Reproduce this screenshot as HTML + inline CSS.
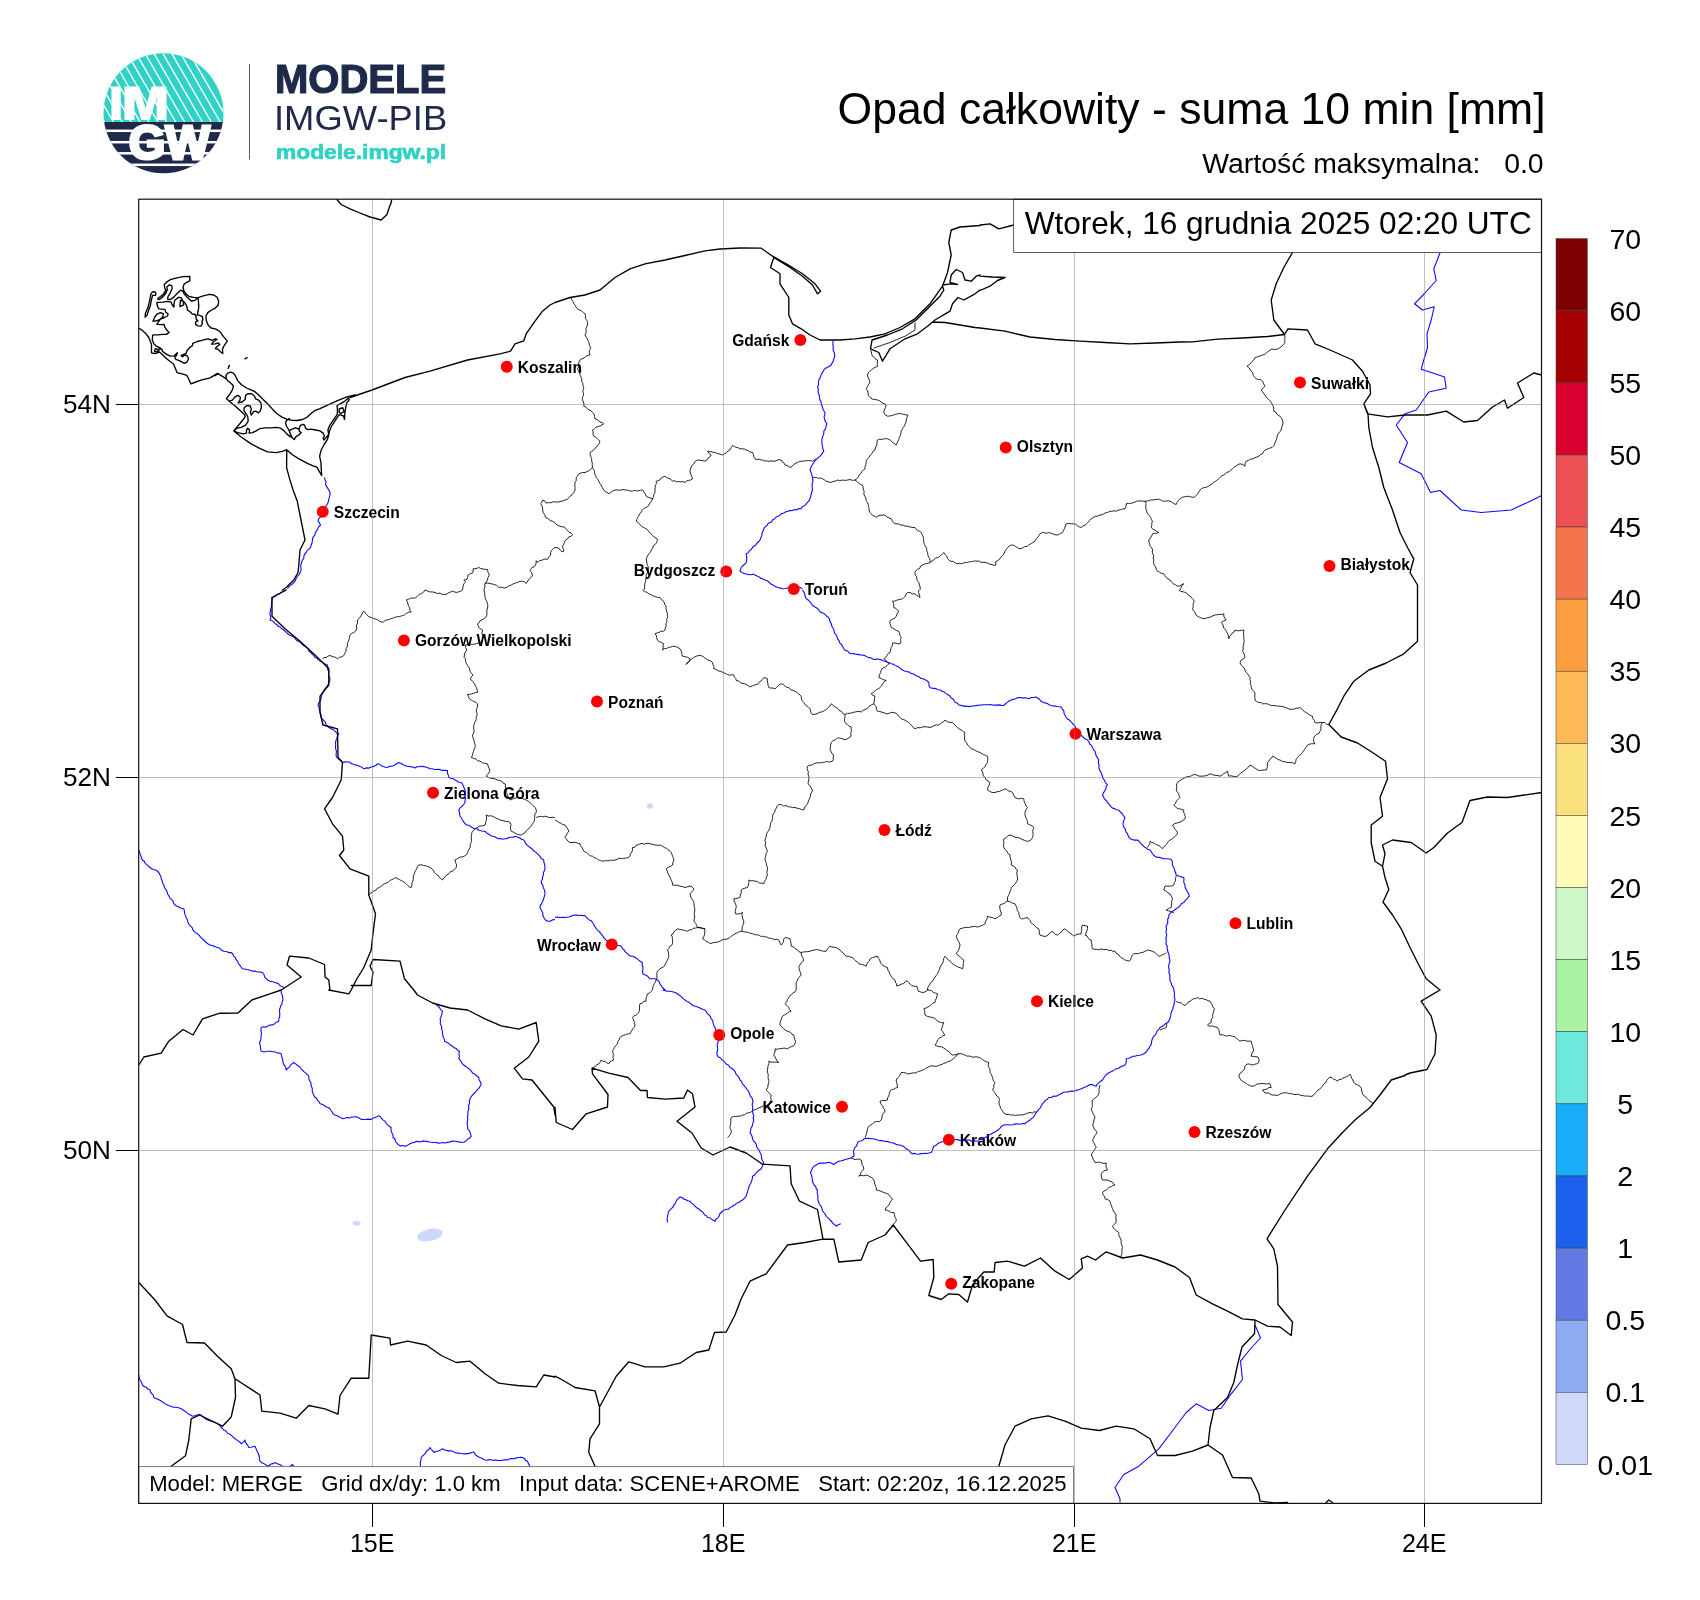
<!DOCTYPE html>
<html><head><meta charset="utf-8"><title>Opad całkowity - suma 10 min</title>
<style>
html,body{margin:0;padding:0;background:#fff;}
body{width:1700px;height:1600px;overflow:hidden;font-family:"Liberation Sans",sans-serif;}
svg{display:block;will-change:transform;}
text{font-family:"Liberation Sans",sans-serif;}
.thick{fill:none;stroke:#000;stroke-width:1.35;stroke-linejoin:round;stroke-linecap:round;}
.thin{fill:none;stroke:#000;stroke-width:0.85;stroke-linejoin:round;}
.blue{fill:none;stroke:#0a0aff;stroke-width:1.1;stroke-linejoin:round;}
.grid{stroke:#808080;stroke-width:0.5;}
.city{font-weight:bold;font-size:15.6px;fill:#000;}
.ax{font-size:25px;fill:#000;}
.cbl{font-size:28.5px;fill:#000;text-anchor:middle;}
</style></head><body>
<svg width="1700" height="1600" viewBox="0 0 1700 1600">
<rect width="1700" height="1600" fill="#fff"/>
<defs>
<clipPath id="mapclip"><rect x="138.7" y="199.2" width="1402.8" height="1304.2"/></clipPath>
<clipPath id="ctop"><path d="M103.5,113.25 A60,60 0 0 1 223.5,113.25 L223.5,122 L103.5,122 Z"/></clipPath>
<clipPath id="cbot"><path d="M103.5,122 L223.5,122 L223.5,113.25 A60,60 0 0 1 103.5,113.25 Z"/></clipPath>
<clipPath id="circ"><circle cx="163.5" cy="113.25" r="60"/></clipPath>
</defs>

<g id="logo">
<g clip-path="url(#circ)">
<rect x="100" y="50" width="130" height="72" fill="#2fd2c4"/>
<rect x="100" y="122" width="130" height="56" fill="#1f2a4b"/>
<g clip-path="url(#ctop)" stroke="#fff" stroke-width="1.4">
<line x1="45.2" y1="50" x2="86.7" y2="122"/>
<line x1="54.1" y1="50" x2="95.6" y2="122"/>
<line x1="63.0" y1="50" x2="104.5" y2="122"/>
<line x1="71.9" y1="50" x2="113.4" y2="122"/>
<line x1="80.8" y1="50" x2="122.3" y2="122"/>
<line x1="89.7" y1="50" x2="131.2" y2="122"/>
<line x1="98.6" y1="50" x2="140.1" y2="122"/>
<line x1="107.5" y1="50" x2="149.0" y2="122"/>
<line x1="116.4" y1="50" x2="157.9" y2="122"/>
<line x1="125.3" y1="50" x2="166.8" y2="122"/>
<line x1="134.2" y1="50" x2="175.7" y2="122"/>
<line x1="143.1" y1="50" x2="184.6" y2="122"/>
<line x1="152.0" y1="50" x2="193.5" y2="122"/>
<line x1="160.9" y1="50" x2="202.4" y2="122"/>
<line x1="169.8" y1="50" x2="211.3" y2="122"/>
<line x1="178.7" y1="50" x2="220.2" y2="122"/>
<line x1="187.6" y1="50" x2="229.1" y2="122"/>
<line x1="196.5" y1="50" x2="238.0" y2="122"/>
<line x1="205.4" y1="50" x2="246.9" y2="122"/>
<line x1="214.3" y1="50" x2="255.8" y2="122"/>
<line x1="223.2" y1="50" x2="264.7" y2="122"/>
<line x1="232.1" y1="50" x2="273.6" y2="122"/>
</g>
<rect x="100" y="129.55" width="130" height="2.5" fill="#fff"/>
<rect x="100" y="140.95" width="130" height="2.5" fill="#fff"/>
<rect x="100" y="152.05" width="130" height="2.5" fill="#fff"/>
<rect x="100" y="163.55" width="130" height="2.5" fill="#fff"/>
</g>
<path fill="#fff" d="M111.5,86.5 h9.2 v33.5 h-9.2 Z M124.5,120 V86.5 H139.3 L145.5,108.5 L151.7,86.5 H166.5 V120 H156.6 V97.5 L149.7,120 H141.3 L134.4,97.5 V120 Z"/>
<text x="128.8" y="159" font-weight="bold" font-size="47.5" fill="#fff" stroke="#fff" stroke-width="3" stroke-linejoin="miter" textLength="81" lengthAdjust="spacingAndGlyphs">GW</text>
<line x1="249.5" y1="64" x2="249.5" y2="159.5" stroke="#565b73" stroke-width="1"/>
<text x="275" y="92.9" font-weight="bold" font-size="40.2" fill="#1f2a4b" stroke="#1f2a4b" stroke-width="1.2" textLength="171.2" lengthAdjust="spacingAndGlyphs">MODELE</text>
<text x="274" y="130" font-size="35.8" fill="#1f2a4b" textLength="173.2" lengthAdjust="spacingAndGlyphs">IMGW-PIB</text>
<text x="276" y="158.8" font-weight="bold" font-size="20.6" fill="#2fd2c4" stroke="#2fd2c4" stroke-width="0.7" textLength="170" lengthAdjust="spacingAndGlyphs">modele.imgw.pl</text>
</g>
<text x="1545.6" y="124.0" font-size="44.55" text-anchor="end" fill="#000">Opad całkowity - suma 10 min [mm]</text>
<text x="1543.6" y="173.4" font-size="28.4" text-anchor="end" fill="#000" xml:space="preserve">Wartość maksymalna:   0.0</text>
<g clip-path="url(#mapclip)">
<ellipse cx="650" cy="806" rx="3" ry="2.8" fill="#cdd8f8"/>
<ellipse cx="356.7" cy="1223.3" rx="3.8" ry="2.4" fill="#cdd8f8"/>
<ellipse cx="430" cy="1235" rx="13" ry="6" fill="#cdd8f8" transform="rotate(-12 430 1235)"/>
<text class="city" x="333.8" y="517.9">Szczecin</text>
<text class="city" x="517.8" y="372.9">Koszalin</text>
<text class="city" x="789.4" y="346.3" text-anchor="end">Gdańsk</text>
<text class="city" x="715.2" y="575.9" text-anchor="end">Bydgoszcz</text>
<text class="city" x="804.8" y="595.2">Toruń</text>
<text class="city" x="1311.0" y="388.6">Suwałki</text>
<text class="city" x="1016.8" y="451.9">Olsztyn</text>
<text class="city" x="1340.5" y="570.3">Białystok</text>
<text class="city" x="414.9" y="645.6">Gorzów Wielkopolski</text>
<text class="city" x="444.1" y="799.1">Zielona Góra</text>
<text class="city" x="608.0" y="707.8">Poznań</text>
<text class="city" x="895.5" y="836.3">Łódź</text>
<text class="city" x="600.8" y="950.6" text-anchor="end">Wrocław</text>
<text class="city" x="1086.5" y="739.9">Warszawa</text>
<text class="city" x="1246.5" y="929.4">Lublin</text>
<text class="city" x="730.2" y="1039.4">Opole</text>
<text class="city" x="831.0" y="1112.8" text-anchor="end">Katowice</text>
<text class="city" x="959.8" y="1146.1">Kraków</text>
<text class="city" x="962.2" y="1288.2">Zakopane</text>
<text class="city" x="1048.0" y="1007.4">Kielce</text>
<text class="city" x="1205.5" y="1138.3">Rzeszów</text>
<path class="thin" d="M571.2,298.0 L571.9,300.1 L573.4,301.7 L573.9,303.9 L575.5,305.5 L576.2,307.5 L577.8,309.0 L579.6,310.2 L581.7,311.0 L583.3,312.5 L585.0,313.8 L585.5,316.0 L585.4,318.4 L586.9,320.4 L587.6,322.6 L587.5,325.0 L586.6,326.9 L585.9,328.9 L586.3,331.1 L585.9,333.1 L585.0,335.0 L585.9,336.8 L587.1,338.5 L587.9,340.5 L589.0,342.2 L589.1,344.4 L590.0,346.2 L590.6,348.4 L589.5,350.6 L589.3,352.8 L590.0,355.0 L587.7,355.4 L585.7,356.5 L584.0,358.0 L581.9,358.8 L580.0,360.0 L578.9,362.1 L578.6,364.3 L578.7,366.7 L577.5,368.8 L578.5,370.9 L579.6,373.0 L580.3,375.3 L581.2,377.5 L581.8,379.5 L581.7,381.6 L582.9,383.5 L583.0,385.6 L583.8,387.5 L583.1,389.5 L583.0,391.5 L583.5,393.6 L583.4,395.6 L582.5,397.5 L582.4,399.7 L583.3,401.8 L584.0,404.0 L583.8,406.2 L585.8,407.1 L587.3,408.7 L589.0,410.0 L591.1,410.7 L592.5,412.5 L594.2,414.2 L594.5,416.5 L595.0,418.8 L597.0,419.3 L598.5,420.7 L600.1,422.1 L602.2,422.4 L603.8,423.8 L601.9,424.9 L600.1,426.0 L598.0,426.6 L595.9,427.3 L594.3,428.8 L592.5,430.0 L593.2,432.0 L592.9,434.2 L593.8,436.2 L595.6,437.1 L597.1,438.4 L598.6,439.8 L600.0,441.2 L599.2,443.6 L597.5,445.4 L596.2,447.5 L594.7,448.7 L593.3,450.3 L591.7,451.4 L590.0,452.5 L590.2,454.7 L590.9,456.8 L591.7,458.8 L591.7,461.0 L592.3,463.1 L592.2,465.4 L592.5,467.5 L593.6,469.4 L594.6,471.3 L594.5,473.6 L595.6,475.5 L596.2,477.5 L597.8,479.2 L598.8,481.2 L599.8,483.3 L601.2,485.0 L602.2,487.6 L603.8,490.0 L605.1,491.7 L607.2,492.4 L608.8,493.8 L610.8,492.4 L612.8,491.0 L615.0,490.0 L617.0,489.9 L619.0,490.1 L621.0,490.2 L623.0,489.5 L625.0,490.0 L627.6,490.1 L630.0,491.0 L632.5,491.2 L634.4,490.4 L636.5,490.9 L638.5,490.8 L640.5,490.2 L642.5,490.0 L643.8,492.0 L645.3,494.0 L646.2,496.2 L648.3,497.3 L650.4,498.0 L652.5,498.8 M592.5,467.5 L590.8,469.0 L589.2,470.6 L587.1,471.6 L585.0,472.5 L582.8,472.5 L580.8,473.0 L578.8,473.8 L577.5,475.8 L576.2,477.8 L576.3,480.5 L575.0,482.5 M652.5,498.8 L653.5,496.7 L653.8,494.4 L655.0,492.5 L655.0,490.2 L655.0,487.9 L655.4,485.7 L656.4,483.5 L656.2,481.2 L658.2,480.6 L660.1,479.8 L661.3,477.9 L663.1,476.9 L665.0,476.2 L666.7,477.7 L669.0,478.3 L671.0,479.5 L672.5,481.2 L674.7,480.7 L676.7,481.8 L678.8,481.6 L680.9,481.9 L683.0,481.6 L685.0,482.5 L686.5,480.9 L688.6,480.4 L690.8,480.0 L692.5,478.8 L691.6,476.3 L690.6,473.8 L690.0,471.2 L690.3,469.1 L691.2,467.1 L692.1,465.3 L693.8,463.8 L695.2,461.4 L697.5,460.0 L700.0,460.3 L702.5,460.6 L705.0,461.2 L707.0,460.1 L708.1,458.1 L710.0,456.9 L711.2,455.0 L709.1,453.4 L707.5,451.2 L710.0,451.6 L712.5,452.1 L715.0,452.5 L717.4,453.5 L720.0,454.1 L722.5,455.0 L724.4,453.8 L726.5,452.8 L727.9,451.0 L730.0,450.0 L731.2,447.7 L732.5,445.5 L734.3,446.4 L736.1,447.5 L738.2,447.7 L740.0,448.8 L742.1,448.9 L744.3,448.9 L746.2,450.0 L748.3,450.8 L750.2,452.1 L752.5,452.5 L753.4,454.6 L753.8,456.8 L755.0,458.8 L756.9,459.6 L759.1,459.2 L761.1,460.0 L763.2,460.1 L765.0,461.2 L767.0,460.8 L769.0,461.5 L771.0,460.8 L773.0,461.2 L775.0,461.2 L777.0,460.2 L779.0,459.7 L781.2,460.0 L782.2,461.9 L784.1,463.1 L785.0,465.0 L787.8,465.7 L790.0,467.5 L791.9,466.6 L793.3,464.9 L795.0,463.8 L797.4,462.5 L799.8,461.4 L802.5,461.2 L804.5,461.0 L806.5,460.6 L808.5,460.6 L810.5,460.7 L812.5,461.2 L814.4,460.1 L816.2,458.8 M652.5,498.8 L651.6,501.1 L650.0,502.9 L648.8,505.0 L647.5,506.8 L645.4,507.6 L643.6,508.9 L642.1,510.4 L641.2,512.5 L639.5,513.8 L638.9,515.8 L637.6,517.4 L636.9,519.3 L636.2,521.2 L638.3,522.6 L639.9,524.5 L641.5,526.4 L643.8,527.5 L645.9,528.7 L647.9,530.2 L649.3,532.3 L651.2,533.8 L652.5,535.6 L654.2,537.0 L656.2,538.1 L657.5,540.0 L656.7,542.3 L655.4,544.3 L653.3,545.7 L652.7,548.1 L651.2,550.0 L650.5,551.9 L649.1,553.4 L648.0,555.1 L647.1,556.9 L646.2,558.8 L646.6,561.0 L646.9,563.3 L647.4,565.5 L648.8,567.5 L648.5,569.6 L648.5,571.7 L647.0,573.4 L646.1,575.3 L646.2,577.5 L645.8,579.6 L645.5,581.7 L644.8,583.7 L644.6,585.8 L644.7,588.0 L643.8,590.0 M812.5,477.5 L814.5,477.4 L816.5,477.6 L818.5,478.2 L820.6,478.0 L822.5,478.8 L824.3,479.8 L825.9,481.2 L828.1,481.6 L830.0,482.5 L832.5,481.8 L835.1,481.1 L837.5,480.0 L839.5,480.5 L841.5,480.3 L843.5,480.1 L845.5,480.4 L847.5,480.0 L850.0,479.5 L852.5,480.4 L855.0,480.0 M855.0,480.0 L856.8,478.8 L858.2,477.1 L859.1,475.0 L860.8,473.6 L861.7,471.6 L863.3,470.1 L865.0,468.8 L865.0,466.6 L865.9,464.7 L866.1,462.7 L866.3,460.6 L867.5,458.8 L869.1,457.1 L870.3,455.1 L872.0,453.5 L873.0,451.3 L875.0,450.0 L875.4,448.0 L876.3,446.1 L877.0,444.1 L876.9,442.0 L877.5,440.0 L879.4,439.2 L881.5,439.5 L883.5,439.0 L885.5,438.6 L887.5,438.8 L889.6,439.6 L891.2,441.0 L892.7,442.6 L894.6,443.7 L896.2,445.0 L897.1,443.1 L898.0,441.2 L898.9,439.3 L899.4,437.2 L900.5,435.4 L900.8,433.3 L901.2,431.2 L902.2,429.4 L903.2,427.6 L904.4,425.9 L905.1,424.0 L906.1,422.2 L906.2,420.0 L906.9,417.4 L908.0,415.0 L905.9,414.9 L903.8,414.3 L901.7,413.9 L899.7,413.4 L897.5,413.8 L895.5,414.4 L893.6,415.0 L891.6,415.5 L889.6,416.0 L887.5,416.2 L885.2,414.8 L883.8,412.5 L884.2,409.9 L885.5,407.5 L886.2,405.0 L884.7,403.7 L882.6,403.2 L881.0,401.9 L879.4,400.7 L877.5,400.0 L874.9,399.5 L872.3,399.1 L870.0,397.5 L868.4,395.6 L868.1,393.1 L867.7,390.7 L866.2,388.8 L867.5,386.7 L868.5,384.5 L870.0,382.5 L869.3,380.0 L868.1,377.6 L867.5,375.0 L868.2,373.0 L869.5,371.5 L871.2,370.3 L872.5,368.8 L875.0,367.4 L877.5,366.2 L877.3,364.2 L877.3,362.1 L877.5,360.0 L875.5,359.2 L874.3,357.4 L872.5,356.2 L871.7,354.2 L871.4,352.0 L870.5,350.0 M855.0,480.0 L856.8,481.3 L858.4,483.0 L860.3,484.3 L862.5,485.0 L863.1,487.1 L863.3,489.4 L864.2,491.5 L863.8,493.8 L864.6,496.0 L865.9,498.0 L866.1,500.5 L867.5,502.5 L868.2,504.5 L868.6,506.5 L869.0,508.5 L869.1,510.6 L870.0,512.5 L871.4,514.0 L872.7,515.5 L874.7,516.2 L876.2,517.5 L878.1,516.1 L880.2,515.3 L882.5,515.0 L885.0,515.2 L886.9,516.9 L889.0,518.0 L891.2,518.8 L892.2,520.7 L893.3,522.4 L895.0,523.8 L897.1,523.9 L899.2,524.1 L901.0,525.2 L903.2,525.1 L905.0,526.2 L907.1,526.0 L909.0,526.7 L911.0,527.2 L913.0,527.5 L915.0,527.5 L916.1,529.3 L917.6,530.7 L919.7,531.3 L921.2,532.5 L922.0,534.4 L923.0,536.3 L923.5,538.3 L923.6,540.4 L923.8,542.5 L924.4,544.5 L925.6,546.4 L926.6,548.3 L926.7,550.5 L927.5,552.5 L927.8,554.6 L928.4,556.5 L929.4,558.4 L930.1,560.4 L930.0,562.5 M930.0,562.5 L927.6,563.6 L924.9,563.8 L922.5,565.0 L920.5,566.0 L919.8,568.3 L917.7,569.2 L916.0,570.5 L915.0,572.5 L915.1,574.7 L916.6,576.5 L916.7,578.7 L917.4,580.7 L918.8,582.5 L919.4,585.0 L920.3,587.4 L920.0,590.0 M930.0,562.5 L931.8,561.1 L933.8,560.0 L935.3,558.2 L937.5,557.5 L939.3,556.6 L940.9,555.3 L942.3,553.9 L943.8,552.5 L945.0,554.4 L946.7,556.0 L947.4,558.2 L948.8,560.0 L950.8,561.3 L953.3,561.4 L955.2,563.0 L957.5,563.8 L959.5,563.4 L961.6,563.8 L963.5,563.0 L965.5,562.4 L967.5,562.5 L969.5,561.7 L971.6,561.7 L973.7,561.1 L975.8,561.0 L977.9,561.2 L980.0,561.2 M1284.5,334.5 L1284.9,336.5 L1284.8,338.5 L1284.7,340.5 L1285.0,342.5 L1283.5,344.4 L1282.0,346.1 L1280.0,347.5 L1278.2,348.8 L1276.2,349.3 L1274.1,349.4 L1271.9,349.1 L1270.0,350.0 L1268.3,351.5 L1266.4,352.7 L1264.8,354.4 L1262.5,355.0 L1260.0,356.0 L1257.5,356.8 L1255.0,357.5 L1254.0,359.3 L1252.7,361.0 L1251.2,362.5 L1249.4,364.7 L1247.0,366.2 L1248.6,367.6 L1250.1,369.0 L1251.0,371.0 L1252.5,372.5 L1253.2,375.3 L1255.0,377.5 L1256.5,379.1 L1258.7,379.5 L1260.9,379.7 L1262.5,381.2 L1263.6,383.8 L1265.0,386.2 L1263.1,388.1 L1261.2,390.0 L1262.5,391.7 L1263.6,393.5 L1265.0,395.0 L1266.2,397.2 L1268.0,398.9 L1269.7,400.6 L1271.2,402.5 L1272.4,404.5 L1273.3,406.7 L1273.8,408.9 L1273.8,411.2 L1275.8,411.9 L1276.7,414.0 L1278.3,415.2 L1280.0,416.2 L1281.5,418.1 L1282.4,420.2 L1283.0,422.5 L1282.7,425.1 L1281.5,427.4 L1281.2,430.0 L1280.0,431.7 L1278.7,433.3 L1277.5,435.0 L1277.0,437.6 L1276.2,440.1 L1275.0,442.5 L1274.1,445.4 L1272.0,447.5 L1269.6,448.2 L1267.3,449.1 L1265.0,450.0 L1263.5,451.7 L1262.5,453.8 L1260.5,454.5 L1259.0,456.1 L1257.1,457.0 L1255.0,457.5 L1253.0,458.8 L1250.5,459.2 L1248.5,460.4 L1246.2,461.2 L1245.1,463.6 L1245.0,466.2 L1242.8,464.5 L1240.0,463.8 L1237.9,464.6 L1236.1,466.1 L1234.2,467.2 L1232.5,468.8 L1230.8,470.1 L1229.3,471.7 L1227.1,472.3 L1225.5,473.7 L1223.8,475.0 L1221.8,475.7 L1220.3,477.1 L1218.9,478.5 L1217.5,480.0 L1215.6,481.2 L1213.6,482.3 L1212.0,484.0 L1210.0,485.0 L1208.1,486.3 L1206.2,487.3 L1203.9,487.7 L1201.7,488.4 L1200.0,490.0 L1198.7,492.1 L1197.5,494.2 L1195.7,495.9 L1193.8,497.5 L1191.7,497.0 L1189.6,496.7 L1187.5,496.2 L1184.9,496.8 L1182.3,497.2 L1180.0,498.8 L1178.3,500.4 L1177.2,502.4 L1176.2,504.5 L1174.0,503.7 L1172.1,502.3 L1170.0,501.2 L1167.9,500.8 L1165.7,501.1 L1163.5,501.3 L1161.4,500.3 L1159.4,499.3 L1157.2,499.3 L1155.0,499.5 L1153.0,500.1 L1150.9,499.8 L1149.0,500.7 L1147.0,501.1 L1145.0,501.2 M1145.0,501.2 L1143.0,501.0 L1141.0,501.0 L1138.9,500.9 L1136.9,501.1 L1135.0,502.0 L1132.9,502.8 L1130.7,503.4 L1128.5,503.4 L1126.2,503.8 L1126.0,506.3 L1125.0,508.8 L1122.7,509.0 L1120.5,509.6 L1118.3,510.1 L1116.2,511.2 L1114.0,510.8 L1111.8,511.3 L1109.6,511.4 L1107.5,512.5 L1104.9,513.1 L1102.6,514.6 L1100.0,515.0 L1097.9,516.0 L1095.4,516.4 L1093.3,517.5 L1091.2,518.8 L1089.7,520.3 L1088.3,522.1 L1086.7,523.7 L1085.1,525.2 L1082.9,526.0 L1081.2,527.5 L1079.3,526.8 L1077.4,525.8 L1075.9,524.2 L1073.8,523.8 L1071.2,523.8 L1068.8,523.5 L1066.2,523.8 L1065.4,526.0 L1064.6,528.2 L1063.6,530.4 L1062.5,532.5 L1060.5,533.5 L1058.5,534.7 L1056.2,535.0 L1053.7,534.2 L1051.3,533.3 L1048.8,532.5 L1046.6,533.3 L1044.3,532.7 L1042.1,532.6 L1040.0,533.8 L1038.8,535.6 L1037.7,537.6 L1036.0,539.2 L1035.0,541.2 L1033.1,542.4 L1031.2,543.6 L1029.1,544.7 L1027.5,546.2 L1024.8,546.6 L1022.5,548.1 L1020.0,548.8 L1017.8,547.9 L1015.8,546.5 L1013.7,545.3 L1011.2,545.0 L1009.2,546.0 L1007.7,547.7 L1006.2,549.4 L1005.0,551.2 L1004.2,553.4 L1002.8,555.2 L1001.1,556.8 L1000.0,558.8 L997.9,560.5 L995.5,561.8 L996.0,565.0 L993.9,565.4 L992.0,564.6 L990.0,564.2 L988.1,563.5 L986.2,562.6 L984.1,562.3 L982.0,562.3 L980.0,562.0 M1145.0,501.2 L1146.0,503.4 L1145.8,505.8 L1145.7,508.1 L1146.4,510.3 L1147.0,512.5 L1148.0,514.3 L1149.6,515.7 L1150.7,517.5 L1151.4,519.5 L1152.5,521.2 L1151.7,523.3 L1151.8,525.4 L1151.2,527.5 L1152.9,529.1 L1154.9,530.2 L1156.8,531.4 L1158.8,532.5 L1156.7,533.3 L1154.6,533.2 L1152.5,533.8 L1151.6,536.1 L1150.2,538.1 L1148.8,540.0 L1149.1,542.2 L1149.6,544.2 L1150.2,546.3 L1151.9,548.0 L1152.5,550.0 L1152.2,552.1 L1152.9,554.0 L1153.7,555.9 L1153.1,558.0 L1153.8,560.0 L1153.5,562.2 L1153.9,564.2 L1155.1,566.0 L1156.1,567.9 L1156.2,570.0 L1157.9,571.4 L1159.8,572.3 L1161.5,573.5 L1163.8,573.8 L1164.9,575.7 L1166.3,577.5 L1168.0,578.9 L1170.0,580.0 L1171.5,582.1 L1173.2,583.7 L1175.5,584.8 L1177.5,586.2 L1179.8,586.0 L1181.7,584.7 L1183.8,583.8 L1181.9,585.5 L1181.0,587.8 L1180.0,590.0 M575.0,482.5 L574.8,485.0 L575.0,487.5 L575.0,490.1 L573.8,492.5 L572.2,494.7 L570.0,496.2 L568.6,497.9 L567.2,499.4 L565.0,500.0 L563.1,500.9 L561.1,501.3 L559.1,501.8 L557.1,502.1 L555.0,501.9 L552.8,501.9 L550.7,502.8 L548.4,502.6 L546.2,503.1 L544.8,501.0 L542.5,500.0 L541.9,502.1 L540.6,503.8 L542.5,506.9 L542.7,509.7 L543.1,512.5 L544.8,514.8 L545.6,517.5 L548.2,518.6 L550.0,520.6 L552.5,521.2 L554.7,522.5 L556.2,524.4 L558.6,525.6 L561.0,526.7 L563.8,526.9 L565.9,528.5 L567.5,530.6 L569.0,532.2 L571.1,532.9 L572.5,534.6 L571.1,536.3 L568.8,536.9 L567.5,538.8 L565.4,540.2 L564.4,542.5 L563.7,544.5 L562.5,546.2 L563.1,548.7 L563.8,551.2 L561.9,551.9 L560.2,550.1 L558.8,548.1 L555.0,547.5 L553.3,548.6 L551.9,550.0 L550.7,552.4 L550.6,555.0 L548.8,557.0 L547.5,559.4 L544.9,559.0 L542.5,560.0 L539.7,560.6 L537.5,562.5 L536.2,560.6 L536.1,562.8 L535.6,565.0 L534.1,566.8 L531.9,567.5 L530.0,570.6 L531.8,572.8 L532.5,575.6 L531.1,577.3 L529.4,578.8 L527.7,581.0 L526.2,583.5 L524.7,581.9 L522.5,581.2 L519.9,581.4 L517.5,582.5 L515.3,583.0 L513.2,583.9 L511.2,585.0 L509.0,585.8 L507.1,587.1 L505.0,588.1 L502.9,587.7 L500.9,587.2 L498.8,587.5 L496.6,585.4 L493.8,584.4 L490.0,583.5 L487.5,583.0 L485.0,583.5 M485.0,583.5 L486.4,581.9 L487.5,580.0 L488.0,577.3 L489.4,575.0 L488.0,572.3 L487.5,569.4 L485.3,569.4 L483.1,569.0 L480.8,568.6 L478.8,567.5 L476.1,568.6 L473.1,568.8 L473.2,571.0 L472.5,573.1 L470.2,573.8 L468.1,575.0 L467.7,577.2 L466.9,579.4 L463.8,580.0 L465.6,581.9 L463.9,583.8 L463.1,586.2 L462.5,590.0 L460.6,591.3 L458.4,591.9 L456.2,592.5 L452.5,591.2 L450.3,592.1 L448.1,593.0 L446.2,594.4 L444.1,594.5 L441.9,594.2 L440.0,593.1 L437.4,593.5 L435.0,592.5 L432.5,591.9 L429.8,591.9 L427.4,591.0 L425.0,590.0 M485.0,583.5 L484.9,585.7 L484.8,588.0 L483.8,590.0 L484.6,592.4 L484.8,595.0 L485.0,597.5 L485.8,599.6 L486.9,601.6 L487.5,603.8 L487.9,605.9 L487.5,608.0 L486.9,610.0 L486.8,612.5 L486.9,615.0 L485.8,617.3 L483.8,618.8 L482.0,619.9 L480.0,620.6 L479.3,622.6 L477.5,623.8 L478.2,626.0 L479.4,628.1 L482.5,630.0 L481.9,633.8 L483.1,635.5 L483.8,637.5 L482.6,639.2 L481.7,641.2 L480.0,642.5 L476.2,643.8 L473.8,644.2 L471.2,644.4 L468.4,644.3 L465.6,645.0 L465.6,647.7 L466.9,650.0 L465.1,652.2 L464.4,655.0 L464.0,657.2 L465.6,659.1 L465.6,661.2 L466.6,663.9 L468.1,666.2 L469.5,668.6 L470.0,671.2 L471.3,673.3 L473.1,675.0 L471.2,677.1 L470.6,680.0 M322.5,658.8 L324.2,657.5 L326.4,657.5 L328.0,656.1 L330.0,655.5 L331.9,656.3 L333.8,657.0 L335.8,657.4 L337.5,658.8 L339.4,657.3 L341.8,656.8 L343.8,655.5 L344.8,653.2 L346.1,651.1 L346.1,648.4 L347.5,646.2 L347.3,643.8 L348.2,641.7 L349.1,639.5 L349.4,637.2 L350.0,635.0 L351.4,633.5 L353.3,632.7 L355.1,631.7 L356.2,630.0 L356.9,628.1 L356.4,626.0 L357.2,624.0 L357.5,622.0 L357.5,620.0 L359.1,618.5 L360.4,616.8 L361.5,614.9 L362.4,613.0 L363.8,611.2 L365.3,613.1 L367.0,614.9 L368.8,616.6 L371.2,617.5 L373.2,618.4 L375.4,619.0 L377.5,619.7 L379.2,621.1 L381.2,622.0 L383.5,622.0 L385.2,620.5 L387.2,619.9 L389.3,619.4 L391.2,618.6 L393.3,618.0 L395.2,617.2 L397.3,616.7 L399.5,616.6 L401.4,615.9 L403.5,615.5 L405.3,614.2 L407.1,612.9 L409.1,612.1 L411.2,612.0 L409.9,610.2 L409.7,607.9 L408.5,606.1 L407.9,604.0 L407.6,601.8 L406.2,600.0 L408.5,599.3 L410.6,598.2 L413.1,598.1 L415.5,597.8 L417.5,596.2 L419.2,594.4 L421.5,593.4 L423.6,592.1 L425.0,590.0 M471.2,680.0 L472.7,681.5 L474.0,683.2 L475.0,685.0 L476.3,687.3 L477.2,689.8 L477.5,692.5 L475.5,692.7 L473.5,693.3 L471.6,694.0 L469.6,694.4 L467.5,694.5 L468.4,696.6 L469.3,698.6 L471.2,700.0 L473.3,701.3 L475.6,702.2 L477.5,703.8 L477.7,706.1 L476.8,708.3 L476.2,710.6 L476.9,712.9 L477.1,715.3 L476.2,717.5 L476.2,719.8 L475.0,721.8 L474.3,723.9 L473.6,726.1 L473.7,728.4 L474.0,730.7 L473.8,733.0 L472.5,735.0 L472.8,737.1 L473.5,739.1 L474.2,741.2 L474.6,743.2 L475.3,745.3 L475.0,747.5 L474.0,749.4 L473.5,751.5 L472.7,753.5 L472.4,755.6 L471.2,757.5 L473.5,758.3 L475.8,759.0 L477.6,760.7 L480.0,761.2 L482.3,762.7 L484.8,763.4 L487.5,763.8 L488.1,765.9 L488.8,768.1 L490.0,770.0 L489.1,772.3 L487.8,774.3 L486.2,776.2 L488.4,777.4 L490.6,778.3 L493.0,778.4 L495.3,779.1 L497.5,780.0 L499.6,780.4 L501.6,781.1 L503.0,783.1 L505.0,783.8 L505.6,785.9 L505.3,788.2 L506.3,790.3 L506.2,792.5 L507.3,794.3 L508.1,796.2 L509.4,797.9 L510.0,800.0 L512.2,799.1 L514.4,798.4 L516.6,797.6 L518.9,797.5 L521.2,797.5 L522.9,798.8 L524.9,799.3 L526.6,800.3 L528.4,801.3 L530.0,802.5 L531.6,804.3 L533.4,806.0 L535.3,807.6 L536.2,810.0 L536.3,812.2 L534.9,814.1 L534.7,816.2 L534.6,818.3 L534.4,820.5 L533.8,822.5 L532.0,824.2 L530.9,826.5 L529.1,828.1 L527.5,830.0 L525.9,831.2 L524.7,833.0 L522.9,833.9 L521.2,835.0 L518.7,834.7 L516.2,833.8 M368.8,895.0 L370.3,893.2 L372.3,892.2 L374.1,890.8 L376.2,890.0 L377.4,888.2 L379.4,887.5 L381.0,886.3 L382.5,885.0 L384.2,883.8 L386.2,883.1 L388.2,882.3 L389.7,880.7 L391.5,879.7 L393.5,879.0 L395.0,877.5 L396.9,878.3 L398.8,879.3 L400.7,880.3 L402.5,881.2 L404.4,882.3 L406.0,883.8 L407.5,885.3 L409.1,886.8 L411.2,887.5 L411.8,885.4 L411.8,883.3 L412.8,881.3 L413.3,879.2 L413.2,877.0 L413.8,875.0 L414.6,872.9 L415.4,870.8 L416.7,869.0 L417.4,866.8 L418.8,865.0 L421.2,864.8 L423.4,865.4 L425.7,865.8 L427.9,866.5 L430.0,867.5 L431.9,868.8 L433.4,870.3 L434.4,872.5 L435.9,874.1 L437.9,875.2 L439.0,877.2 L440.8,878.5 L442.5,880.0 L443.6,878.0 L445.4,876.7 L446.7,874.8 L448.8,873.8 L450.3,871.8 L452.8,871.0 L454.5,869.2 L456.2,867.5 L456.6,864.9 L455.6,862.5 L455.0,860.0 L456.8,859.0 L458.6,857.9 L460.4,857.0 L462.6,856.8 L464.5,856.0 L466.2,855.0 L467.6,853.1 L468.1,850.9 L469.3,849.0 L470.3,846.9 L470.1,844.5 L471.2,842.5 L471.6,840.3 L471.2,837.9 L471.6,835.7 L471.6,833.4 L472.5,831.2 L474.1,830.0 L475.5,828.3 L477.5,827.5 L479.8,826.0 L482.5,825.9 L485.0,825.0 L485.5,823.0 L486.1,821.1 L486.5,819.1 L486.6,817.1 L486.2,815.0 L488.2,816.0 L490.4,815.8 L492.5,816.2 L494.4,817.1 L496.2,818.2 L498.2,818.9 L500.0,820.0 L502.0,820.4 L504.0,820.9 L506.0,821.5 L508.2,821.4 L510.0,822.5 L511.0,824.6 L510.5,826.9 L510.4,829.1 L511.2,831.2 L513.8,832.3 L516.2,833.8 M536.2,817.5 L538.4,816.7 L540.5,816.3 L542.9,816.9 L545.0,816.2 L547.0,816.6 L548.9,817.6 L551.0,817.5 L553.1,817.2 L555.0,818.0 M642.5,590.0 L644.4,591.6 L646.9,592.2 L648.8,593.8 L651.0,594.6 L653.0,595.9 L655.3,596.6 L657.5,597.4 L660.0,597.5 L661.2,599.3 L663.0,600.7 L664.2,602.4 L664.8,604.7 L666.2,606.2 L666.0,608.6 L666.5,610.8 L667.3,613.0 L667.4,615.2 L667.5,617.5 L666.7,619.5 L667.1,621.7 L665.8,623.7 L666.3,625.9 L665.3,627.9 L665.0,630.0 L663.2,631.3 L660.9,631.2 L659.1,632.4 L657.0,633.0 L655.0,633.8 L656.4,635.6 L656.7,637.9 L657.5,640.0 L659.2,641.8 L661.7,642.5 L663.8,643.8 L662.9,645.7 L663.2,648.0 L662.5,650.0 L664.2,648.6 L666.5,648.5 L668.4,647.4 L670.6,647.2 L672.5,646.2 L675.2,646.6 L677.7,647.3 L680.0,648.8 L681.3,651.1 L681.8,653.7 L682.5,656.2 L685.1,656.7 L687.7,657.3 L690.0,658.8 L689.4,661.1 L687.9,662.8 L686.2,664.5 L687.2,662.5 L689.1,661.5 L690.3,659.8 L692.1,658.7 L693.8,657.5 L696.1,656.2 L698.8,655.5 L700.9,655.6 L702.9,656.3 L704.5,657.7 L706.2,658.8 L708.2,660.2 L710.6,660.9 L712.5,662.5 L712.9,664.6 L713.9,666.6 L713.8,668.8 L716.2,669.5 L718.2,670.9 L720.8,671.3 L723.0,672.5 L725.3,673.4 L727.5,674.5 L729.5,675.2 L731.7,674.7 L733.8,675.0 L734.3,677.0 L735.8,678.5 L736.2,680.5 L738.4,680.9 L740.2,682.3 L742.0,683.4 L744.3,683.6 L746.2,684.5 L748.2,685.6 L750.0,687.0 L752.4,685.9 L754.8,684.8 L757.5,684.5 L758.8,682.5 L760.9,681.2 L762.3,679.4 L763.8,677.5 L767.5,678.8 L767.3,681.0 L767.8,683.2 L768.1,685.4 L768.8,687.5 L770.8,688.1 L773.0,688.0 L775.0,688.8 L776.5,687.4 L778.0,686.0 L779.4,684.6 L781.2,683.8 L783.3,684.3 L784.8,686.0 L786.5,687.3 L788.8,687.5 L790.4,689.5 L792.7,690.3 L795.0,691.2 L796.8,692.4 L798.5,693.6 L800.0,695.0 L801.3,696.7 L801.4,699.0 L802.2,700.9 L803.8,702.5 L804.9,704.5 L806.7,705.8 L808.4,707.2 L810.0,708.8 L810.5,710.8 L811.1,712.8 L812.5,714.5 L814.7,714.3 L816.9,713.9 L818.8,712.5 L820.8,712.1 L822.7,711.6 L824.5,710.6 L826.2,709.5 L828.1,707.7 L830.0,706.0 L831.2,703.8 L832.9,705.1 L834.3,706.7 L836.2,707.5 L838.0,708.6 L839.2,710.5 L841.2,711.2 L842.8,713.3 L845.0,714.5 M845.0,714.5 L847.4,713.4 L850.0,713.3 L852.5,712.5 L854.7,712.1 L856.8,711.6 L859.0,711.4 L861.2,712.0 L862.9,710.5 L865.0,709.5 L867.4,708.4 L869.1,706.3 L871.2,705.0 L873.8,703.8 M873.8,703.8 L874.2,701.3 L874.5,698.7 L875.0,696.2 L872.9,695.4 L871.2,693.8 L873.2,692.6 L874.9,691.1 L876.5,689.4 L878.8,688.8 L880.2,687.2 L881.6,685.7 L882.5,683.8 L884.1,681.8 L886.2,680.5 L884.3,680.0 L882.4,679.3 L880.7,678.2 L878.8,677.5 L879.4,674.9 L880.6,672.6 L881.2,670.0 L882.8,668.0 L885.2,667.2 L887.1,665.6 L888.8,663.8 L887.1,662.1 L885.7,660.1 L883.8,658.8 L885.6,657.5 L886.8,655.6 L888.0,653.6 L890.0,652.5 L890.6,650.1 L891.1,647.7 L892.3,645.5 L892.5,643.0 L895.0,642.9 L897.5,643.8 L900.0,643.8 L901.0,641.8 L900.6,639.5 L901.2,637.5 L900.0,635.6 L899.6,633.3 L898.8,631.2 L896.7,630.6 L894.9,629.5 L893.1,628.4 L891.2,627.5 L890.7,625.4 L889.9,623.4 L890.0,621.2 L891.3,619.6 L893.3,618.9 L895.0,617.9 L896.2,616.2 L897.2,613.6 L898.8,611.2 L897.2,609.9 L895.8,608.3 L893.8,607.5 L893.7,605.3 L893.7,603.2 L892.5,601.2 L894.6,601.1 L896.5,600.3 L898.5,599.7 L900.5,599.3 L902.5,598.8 L903.9,597.3 L905.6,596.1 L906.1,593.9 L907.5,592.5 L910.1,592.6 L912.4,593.8 L915.0,593.8 L916.4,595.3 L918.4,596.2 L920.0,597.5 L919.6,595.0 L918.6,592.6 L918.8,590.0 M873.8,703.8 L875.1,705.4 L876.3,707.1 L876.4,709.5 L877.5,711.2 L879.8,711.5 L882.0,712.2 L884.2,712.8 L886.2,713.8 L888.8,713.5 L891.2,712.4 L893.8,712.5 L896.2,713.4 L898.0,715.1 L899.5,717.1 L901.2,718.8 L903.1,719.5 L905.1,720.2 L906.8,721.3 L908.5,722.3 L910.0,723.8 L911.6,725.5 L913.1,727.3 L915.0,728.8 L917.4,727.6 L920.1,727.8 L922.5,727.0 L925.0,726.7 L927.5,727.0 L930.0,727.5 L932.1,726.7 L934.2,725.6 L936.3,724.9 L938.8,725.0 L940.3,723.8 L942.0,722.7 L943.7,721.6 L945.0,720.0 L947.2,721.6 L949.7,722.4 L952.5,722.5 L954.2,724.2 L955.7,726.0 L957.5,727.5 L959.2,729.0 L961.4,729.8 L963.0,731.5 L965.0,732.5 L964.3,734.7 L964.6,736.9 L964.5,739.1 L965.0,741.2 L966.7,743.0 L967.8,745.3 L969.7,746.8 L971.2,748.8 L973.6,749.4 L975.6,750.6 L977.8,751.7 L980.0,752.5 M845.0,714.5 L845.0,716.5 L844.6,718.5 L844.5,720.5 L845.0,722.5 L847.0,724.2 L848.8,726.0 L851.2,727.0 L851.2,729.3 L851.4,731.6 L850.6,733.9 L851.2,736.2 L848.8,737.9 L846.2,739.5 L844.0,739.6 L841.9,738.5 L839.7,738.0 L837.5,738.0 L835.5,739.6 L833.1,740.7 L831.2,742.5 L830.5,744.9 L830.4,747.5 L830.0,750.0 L831.2,751.7 L832.0,753.7 L833.8,755.0 L833.1,757.0 L833.4,759.3 L832.5,761.2 L830.5,761.7 L828.5,762.1 L826.4,761.5 L824.5,762.2 L822.5,762.5 L820.3,762.9 L818.1,762.8 L815.9,763.0 L813.8,763.8 L811.8,765.0 L809.5,765.3 L807.5,766.2 L807.1,768.3 L807.7,770.3 L808.4,772.2 L808.0,774.3 L808.8,776.2 L808.9,778.8 L808.4,781.3 L808.0,783.8 L809.9,785.6 L811.1,787.9 L812.5,790.0 L811.9,792.1 L810.6,793.8 L810.6,796.1 L809.7,798.1 L808.8,800.0 L808.1,802.2 L807.3,804.3 L805.5,805.9 L804.5,807.9 L803.8,810.0 L801.5,809.5 L799.4,808.7 L797.2,808.2 L795.0,807.5 L792.7,807.6 L790.5,806.9 L788.3,806.8 L786.2,805.5 L783.6,806.0 L781.3,804.6 L778.8,804.5 L777.1,806.1 L776.3,808.2 L775.0,810.0 L774.8,812.3 L773.1,814.1 L772.5,816.2 L772.5,818.6 L772.0,820.9 L770.7,822.9 L770.3,825.2 L770.0,827.5 L769.1,829.7 L767.8,831.7 L766.5,833.8 L766.2,836.2 L765.6,838.4 L764.9,840.5 L765.7,842.9 L765.0,845.0 L765.9,847.0 L766.5,849.2 L767.5,851.2 L766.1,853.6 L765.7,856.2 L765.0,858.8 L765.4,861.0 L766.4,863.1 L766.6,865.4 L767.5,867.5 L767.3,870.0 L766.8,872.5 L767.5,875.0 L766.3,877.1 L765.9,879.5 L764.4,881.4 L763.8,883.8 L761.6,883.1 L759.2,883.0 L757.3,881.4 L755.0,881.2 L752.9,880.7 L750.8,880.8 L748.8,880.0 L748.9,882.6 L748.4,885.1 L747.5,887.5 L745.3,888.0 L743.1,888.6 L741.2,890.0 L741.3,892.6 L740.3,895.0 L740.0,897.5 L738.0,898.1 L735.9,898.5 L733.8,898.8 L734.1,901.0 L735.2,903.1 L736.0,905.2 L736.2,907.5 L735.5,909.5 L735.2,911.6 L735.5,913.8 L737.9,914.0 L740.3,913.5 L742.5,912.5 L741.9,914.6 L742.4,916.6 L742.7,918.6 L743.6,920.5 L743.8,922.5 L743.1,924.6 L742.2,926.7 L742.1,929.0 L742.0,931.2 M742.0,931.2 L744.0,932.0 L746.3,931.9 L748.3,932.6 L750.4,933.2 L752.5,933.8 L754.4,934.5 L756.5,934.9 L758.6,934.9 L760.4,936.3 L762.5,936.2 L764.5,936.9 L766.6,936.8 L768.4,938.0 L770.5,938.2 L772.5,938.8 L774.5,939.7 L776.8,939.2 L778.8,940.0 L779.8,942.6 L781.2,945.0 L782.5,943.3 L783.5,941.4 L783.6,939.2 L785.0,937.5 L787.5,938.0 L790.0,938.8 L790.5,941.2 L791.1,943.7 L791.2,946.2 L793.6,946.9 L795.3,948.7 L797.4,949.8 L798.9,951.7 L801.2,952.5 L803.4,952.0 L805.6,951.7 L807.8,951.7 L810.0,951.2 L812.1,950.5 L814.3,950.0 L816.5,949.5 L818.8,950.0 L821.2,950.6 L823.7,951.3 L826.2,951.2 L827.2,949.4 L828.4,947.7 L830.0,946.2 L832.0,947.1 L834.2,947.2 L836.3,947.7 L838.2,948.6 L840.0,950.0 L841.5,951.7 L843.3,952.9 L844.5,954.9 L846.2,956.2 L848.4,956.3 L850.4,957.1 L852.5,957.5 L853.9,959.2 L855.4,960.8 L857.4,961.9 L858.8,963.8 L861.3,964.4 L863.9,965.0 L866.2,966.2 L866.8,964.2 L867.8,962.3 L869.4,960.8 L870.0,958.8 L872.4,957.7 L874.9,956.9 L877.5,956.2 L878.2,958.3 L879.8,959.8 L880.1,962.0 L881.2,963.8 L883.0,965.5 L885.2,966.6 L887.5,967.5 L887.8,970.0 L889.2,971.9 L889.9,974.2 L891.2,976.2 M801.2,952.5 L801.4,955.2 L802.7,957.6 L803.8,960.0 L802.5,961.9 L800.7,963.4 L799.6,965.4 L798.8,967.5 L799.4,970.1 L800.5,972.5 L801.2,975.0 L799.8,976.7 L798.1,978.3 L797.3,980.5 L796.2,982.5 L796.2,985.0 L796.2,987.5 L796.2,990.0 M980.0,926.2 L977.8,927.1 L975.5,926.5 L973.2,926.6 L971.0,926.9 L968.8,927.5 L966.5,927.4 L964.3,927.6 L962.2,928.3 L960.0,928.8 L958.9,930.6 L958.4,932.6 L957.2,934.4 L956.2,936.2 L957.0,938.5 L958.0,940.7 L959.4,942.7 L960.0,945.0 L959.5,947.4 L958.8,949.7 L957.5,951.7 L956.2,953.8 L958.1,955.3 L960.1,956.7 L961.8,958.6 L963.8,960.0 L963.5,962.2 L963.2,964.4 L963.2,966.6 L962.5,968.8 L960.5,967.8 L958.3,967.1 L956.3,966.2 L954.4,965.0 L952.5,963.8 L951.1,962.2 L949.5,960.7 L947.7,959.5 L946.5,957.8 L945.0,956.2 L943.8,958.3 L943.4,960.7 L942.8,963.1 L941.2,965.0 L940.1,967.1 L939.5,969.4 L938.4,971.5 L937.5,973.8 L936.3,975.4 L935.0,977.1 L933.9,978.9 L933.0,980.8 L931.2,982.0 L930.0,983.8 L928.9,985.7 L927.7,987.7 L927.5,990.0 M555.0,820.0 L557.0,821.0 L558.8,822.4 L560.9,823.2 L562.7,824.6 L565.0,825.0 L566.4,827.0 L567.8,829.0 L568.8,831.2 L567.3,833.2 L566.3,835.4 L565.0,837.5 L566.6,839.2 L567.9,841.2 L570.0,842.5 L572.0,842.6 L574.1,842.3 L576.1,842.4 L578.0,843.4 L580.0,843.8 L580.4,845.9 L582.0,847.4 L582.9,849.4 L583.8,851.2 L585.6,852.1 L587.3,853.2 L588.8,854.6 L590.4,855.8 L592.5,856.2 L594.3,857.6 L596.5,858.3 L598.2,859.8 L600.4,860.4 L602.5,861.2 L604.6,860.8 L606.7,860.7 L608.8,860.8 L610.8,860.1 L612.9,860.4 L615.0,860.0 L617.1,859.4 L619.1,858.3 L621.4,858.4 L623.7,858.4 L625.9,858.0 L628.1,857.7 L630.0,856.2 L630.3,854.0 L631.8,852.0 L632.6,849.9 L632.5,847.5 L634.7,847.3 L636.1,845.3 L638.2,844.8 L640.0,843.8 L642.0,843.4 L644.0,844.2 L646.0,843.6 L648.0,843.1 L650.0,843.8 L652.1,844.1 L654.1,844.8 L656.2,845.1 L658.3,845.3 L660.5,845.2 L662.5,846.2 L664.3,847.6 L666.6,848.2 L668.2,849.9 L670.0,851.2 L671.5,852.9 L672.1,854.9 L672.8,856.9 L673.8,858.8 L673.7,860.9 L672.7,862.9 L672.5,865.0 L670.5,866.5 L668.1,867.1 L666.2,868.8 L667.2,870.9 L667.9,873.2 L669.0,875.3 L670.0,877.5 L671.1,879.9 L672.3,882.3 L672.5,885.0 L675.0,885.3 L677.6,885.2 L680.0,886.2 L682.6,886.6 L685.0,887.5 L687.0,886.9 L689.1,886.3 L691.2,886.2 L693.8,888.8 L692.9,890.7 L691.4,892.2 L690.0,893.8 L690.5,896.1 L691.4,898.3 L692.9,900.3 L693.8,902.5 L694.1,905.0 L694.4,907.5 L695.0,910.0 L694.4,912.0 L694.2,914.0 L694.7,916.1 L694.7,918.1 L693.8,920.0 L694.5,921.9 L695.9,923.6 L696.6,925.6 L697.5,927.5 L700.1,927.3 L702.5,928.2 L705.0,928.8 M705.0,928.8 L704.8,930.8 L704.7,932.9 L704.4,935.0 L703.7,936.9 L702.5,938.8 L704.5,939.8 L706.1,941.5 L708.4,942.0 L710.0,943.8 L712.0,943.1 L713.9,942.5 L716.0,942.3 L718.1,942.0 L720.0,941.2 L721.8,940.1 L723.8,939.3 L726.1,939.3 L728.1,938.6 L730.0,937.5 L731.5,936.0 L733.3,934.9 L735.0,933.8 L737.3,932.7 L739.5,931.6 L742.0,931.2 M705.0,928.8 L702.5,928.5 L700.0,927.9 L697.5,927.5 L695.4,928.1 L693.3,928.4 L691.5,929.8 L689.3,929.9 L687.5,931.2 L685.5,930.7 L683.6,930.0 L681.5,929.8 L679.5,929.3 L677.5,928.8 L675.8,930.2 L674.1,931.6 L673.1,933.8 L671.2,935.0 L672.4,937.1 L672.4,939.3 L672.6,941.5 L672.5,943.8 L671.4,945.5 L669.6,946.5 L668.8,948.5 L667.5,950.0 L668.3,952.0 L668.6,954.1 L668.8,956.2 L668.1,958.6 L667.1,960.7 L666.0,962.8 L665.0,965.0 L663.5,967.0 L661.1,968.0 L659.2,969.5 L657.5,971.2 L656.8,973.4 L656.8,975.6 L657.0,977.9 L656.2,980.0 L655.3,981.9 L654.2,983.8 L653.3,985.7 L652.7,987.8 L652.5,990.0 M1178.8,590.0 L1180.7,591.4 L1183.2,591.8 L1185.5,592.5 L1187.5,593.8 L1188.8,595.6 L1190.9,596.6 L1192.2,598.4 L1193.8,600.0 L1193.9,602.3 L1193.0,604.4 L1193.3,606.6 L1192.5,608.8 L1193.5,610.8 L1195.2,612.4 L1195.8,614.7 L1197.5,616.2 L1199.9,617.4 L1202.3,618.4 L1205.0,618.8 L1206.9,617.8 L1209.1,617.4 L1211.1,616.8 L1213.0,615.7 L1215.0,615.0 L1217.2,614.7 L1219.4,614.4 L1221.6,614.5 L1223.8,613.8 L1223.8,616.1 L1224.7,618.2 L1226.2,620.0 L1223.6,621.0 L1221.2,622.5 L1222.6,624.0 L1223.2,626.0 L1223.7,628.1 L1225.4,629.4 L1226.2,631.2 L1227.6,633.6 L1228.5,636.1 L1228.8,638.8 L1229.4,636.5 L1231.0,635.1 L1232.1,633.2 L1234.0,632.0 L1235.0,630.0 L1237.2,630.7 L1239.4,630.7 L1241.6,630.3 L1243.8,630.0 L1243.7,632.1 L1243.5,634.2 L1243.8,636.2 L1243.7,638.3 L1244.3,640.4 L1243.8,642.5 L1243.6,644.7 L1243.1,646.9 L1243.2,649.1 L1242.5,651.2 L1243.9,653.1 L1244.4,655.3 L1245.0,657.5 L1243.0,658.9 L1241.1,660.2 L1240.0,662.5 L1240.8,664.7 L1242.5,666.2 L1244.0,668.0 L1245.0,670.0 L1245.8,672.2 L1247.6,673.7 L1248.7,675.7 L1250.0,677.5 L1249.9,679.5 L1250.7,681.5 L1250.2,683.6 L1251.2,685.5 L1251.2,687.5 L1252.0,689.5 L1253.4,691.1 L1255.0,692.5 L1254.8,695.0 L1254.8,697.5 L1255.0,700.0 L1256.6,701.5 L1258.4,702.5 L1260.8,702.5 L1262.5,703.8 L1264.6,703.7 L1266.6,703.7 L1268.6,704.4 L1270.5,705.3 L1272.5,705.5 L1275.0,705.7 L1277.5,706.1 L1280.0,706.2 L1282.1,706.5 L1284.2,707.0 L1286.1,707.8 L1288.1,708.4 L1290.0,709.5 L1292.0,709.2 L1294.1,709.1 L1296.0,708.2 L1298.1,708.3 L1300.0,707.5 L1301.6,708.7 L1302.9,710.3 L1304.4,711.6 L1306.2,712.5 L1308.3,713.9 L1310.2,715.4 L1312.5,716.2 L1312.8,718.5 L1314.3,720.3 L1315.0,722.5 L1317.5,723.0 L1320.0,722.5 L1322.5,722.5 L1324.8,722.6 L1326.5,724.3 L1328.8,724.5 M1322.5,722.5 L1321.2,724.5 L1320.8,726.7 L1321.1,729.2 L1320.0,731.2 L1319.0,733.4 L1316.8,734.3 L1315.1,735.7 L1313.8,737.5 L1313.6,739.7 L1313.8,741.8 L1315.0,743.8 L1312.4,743.7 L1309.9,744.0 L1307.5,745.0 L1306.2,746.9 L1305.1,748.8 L1303.7,750.6 L1302.5,752.5 L1301.0,754.3 L1299.1,755.7 L1297.5,757.5 L1296.1,759.4 L1295.7,761.6 L1295.0,763.8 L1292.6,762.8 L1290.1,762.4 L1287.5,762.5 L1285.0,761.8 L1282.3,761.4 L1280.0,760.0 L1277.9,759.5 L1276.2,758.2 L1274.4,757.1 L1272.5,756.2 L1271.6,758.1 L1269.9,759.3 L1268.9,761.1 L1267.5,762.5 L1267.3,765.0 L1267.3,767.6 L1266.2,770.0 L1264.1,769.9 L1261.9,770.3 L1259.7,770.5 L1257.5,770.0 L1255.8,768.5 L1253.7,767.6 L1252.1,765.9 L1250.0,765.0 L1248.7,767.0 L1246.8,768.4 L1245.0,770.0 L1243.0,771.5 L1241.0,772.9 L1239.3,774.6 L1237.5,776.2 L1235.3,776.7 L1233.1,776.3 L1230.9,775.8 L1228.8,776.2 L1228.0,773.8 L1227.5,771.2 L1225.7,772.6 L1223.7,773.6 L1222.0,775.1 L1220.0,776.2 L1218.0,775.6 L1216.0,775.3 L1213.9,775.2 L1212.0,774.4 L1210.0,773.8 L1208.0,775.0 L1205.8,775.8 L1203.5,776.0 L1201.2,776.2 L1198.7,776.0 L1196.3,774.8 L1193.8,774.5 L1191.7,775.7 L1189.5,776.4 L1187.2,776.7 L1185.0,777.5 L1183.1,778.7 L1181.1,779.8 L1179.3,781.1 L1177.5,782.5 L1176.4,784.9 L1176.8,787.5 L1176.2,790.0 L1177.2,791.9 L1178.7,793.5 L1178.9,795.7 L1180.0,797.5 L1178.3,799.3 L1176.4,800.8 L1175.5,803.3 L1173.8,805.0 L1175.7,806.8 L1177.5,808.8 L1179.6,808.8 L1181.7,809.4 L1183.8,810.0 L1183.6,812.3 L1184.6,814.3 L1185.3,816.5 L1185.0,818.8 L1183.1,820.3 L1181.1,821.6 L1178.8,822.5 L1176.6,823.1 L1174.4,823.8 L1172.5,825.0 L1173.9,826.8 L1174.7,829.0 L1176.4,830.5 L1177.5,832.5 L1176.8,834.5 L1175.5,836.1 L1173.9,837.3 L1172.5,838.8 L1170.6,839.7 L1168.9,840.9 L1167.5,842.5 L1166.5,844.3 L1165.2,845.8 L1163.5,847.0 L1162.5,848.8 L1161.0,847.3 L1159.4,845.9 L1157.5,845.0 L1155.5,844.3 L1153.9,842.9 L1151.7,842.5 L1150.0,841.2 L1149.9,843.6 L1148.6,845.5 L1147.5,847.5 M980.0,752.5 L981.8,753.6 L983.6,754.6 L985.6,755.4 L987.5,756.2 L987.9,758.3 L987.6,760.4 L987.5,762.5 L986.0,764.4 L984.9,766.7 L983.2,768.5 L981.2,770.0 L982.5,771.7 L983.0,773.8 L983.4,775.9 L985.0,777.5 L986.0,779.8 L988.0,781.1 L990.0,782.5 L989.2,785.0 L987.9,787.4 L987.5,790.0 L989.8,791.4 L992.2,792.5 L995.0,792.5 L997.0,791.7 L999.2,791.6 L1001.1,790.6 L1003.1,789.8 L1005.0,788.8 L1007.0,789.5 L1008.5,791.1 L1010.8,791.3 L1012.5,792.5 L1013.6,795.1 L1015.0,797.5 L1017.1,798.4 L1019.3,798.8 L1021.6,798.3 L1023.8,798.8 L1024.1,801.2 L1025.0,803.4 L1025.7,805.7 L1027.5,807.5 L1026.0,809.8 L1025.0,812.2 L1025.0,815.0 L1025.7,817.2 L1026.7,819.3 L1027.4,821.4 L1027.5,823.8 L1029.7,824.8 L1031.9,825.8 L1033.8,827.5 L1033.1,829.5 L1032.7,831.4 L1033.0,833.5 L1033.1,835.5 L1032.5,837.5 L1031.1,839.8 L1028.8,841.2 L1026.3,841.1 L1024.1,840.2 L1021.9,839.4 L1019.8,838.1 L1017.5,837.5 L1014.8,837.2 L1012.5,835.9 L1010.0,835.0 L1007.7,835.9 L1005.9,837.7 L1003.8,838.8 L1003.6,840.9 L1004.0,843.1 L1003.3,845.3 L1003.8,847.5 L1005.2,849.5 L1007.0,851.2 L1008.0,853.5 L1010.0,855.0 L1010.0,857.0 L1010.6,859.0 L1011.2,860.9 L1011.7,862.9 L1011.2,865.0 L1013.1,865.9 L1014.9,866.9 L1015.8,868.9 L1017.5,870.0 L1016.9,872.0 L1016.8,874.0 L1017.3,876.0 L1017.6,878.0 L1017.5,880.0 L1016.2,882.1 L1014.8,884.1 L1013.2,885.9 L1011.2,887.5 L1010.9,889.7 L1009.9,891.6 L1009.4,893.7 L1008.4,895.5 L1007.5,897.5 L1007.5,901.2 M1007.5,901.2 L1005.6,902.2 L1004.0,903.6 L1001.9,904.1 L1000.0,905.0 L999.7,907.1 L1000.0,909.1 L1000.5,911.0 L1001.3,913.0 L1001.2,915.0 L999.1,916.1 L997.2,917.7 L995.0,918.8 L992.6,917.6 L989.9,917.2 L987.5,916.2 L987.1,918.9 L985.6,921.2 L985.0,923.8 L982.6,925.3 L980.0,926.2 M1007.5,901.2 L1010.1,901.8 L1012.4,903.1 L1015.0,903.8 L1016.0,905.9 L1017.0,908.1 L1017.3,910.5 L1018.8,912.5 L1019.0,914.8 L1019.6,917.0 L1021.2,918.8 L1023.4,918.7 L1025.4,917.9 L1027.5,917.5 L1028.7,919.1 L1030.1,920.6 L1030.8,922.6 L1032.5,923.8 L1034.1,924.9 L1035.4,926.6 L1036.9,927.9 L1038.8,928.8 L1039.3,930.8 L1039.2,933.0 L1040.0,935.0 L1042.0,935.8 L1044.1,936.4 L1046.2,936.2 L1047.9,935.2 L1049.1,933.4 L1050.8,932.4 L1052.5,931.2 L1053.8,932.9 L1055.4,934.4 L1057.5,935.0 L1059.4,933.5 L1061.4,932.0 L1062.8,929.9 L1065.0,928.8 L1066.7,930.3 L1068.4,931.9 L1070.3,933.2 L1072.2,934.5 L1073.8,936.2 L1076.0,934.8 L1078.6,934.0 L1081.2,933.8 L1081.3,931.5 L1081.7,929.3 L1081.6,927.1 L1082.5,925.0 L1085.0,925.7 L1087.5,926.2 L1087.5,928.6 L1086.9,930.8 L1086.1,933.0 L1085.0,935.0 L1087.0,935.8 L1088.0,937.7 L1089.3,939.3 L1091.2,940.0 L1091.4,942.2 L1092.0,944.4 L1091.8,946.6 L1092.5,948.8 L1094.6,949.4 L1096.6,949.4 L1098.7,949.8 L1100.9,948.9 L1102.9,949.4 L1105.0,949.5 L1107.1,949.5 L1108.9,950.7 L1111.1,950.1 L1112.9,951.3 L1115.0,951.2 L1116.1,953.3 L1118.4,954.1 L1119.4,956.2 L1121.2,957.5 L1123.1,958.6 L1124.7,959.9 L1126.8,960.5 L1128.8,961.2 L1130.6,959.8 L1131.2,957.5 L1132.2,955.4 L1133.8,953.8 L1135.9,953.5 L1138.2,953.8 L1140.3,952.7 L1142.5,952.5 L1145.1,951.4 L1147.5,950.0 L1150.1,950.6 L1152.6,951.4 L1155.0,952.5 L1156.8,954.4 L1158.8,956.2 L1160.8,955.7 L1162.6,954.5 L1164.7,954.0 L1166.2,952.5 M1176.2,876.2 L1175.4,878.4 L1175.5,880.8 L1174.4,882.8 L1173.8,885.0 L1171.7,886.0 L1169.5,886.2 L1167.2,886.1 L1165.0,886.2 L1163.8,890.0 L1165.9,891.1 L1167.8,892.7 L1170.0,893.8 L1171.3,896.2 L1172.5,898.8 L1171.8,900.9 L1171.7,903.1 L1171.4,905.3 L1171.2,907.5 L1168.6,908.5 L1166.2,910.0 L1168.7,910.9 L1171.2,911.7 L1173.8,912.5 M891.2,976.2 L892.7,978.4 L895.0,979.9 L895.3,982.0 L896.5,983.8 L896.7,986.0 L899.0,985.3 L901.1,984.2 L903.5,983.6 L905.2,981.8 L907.2,980.7 L908.7,982.4 L910.0,984.1 L911.6,985.6 L914.2,986.2 L916.9,986.4 L917.7,988.8 L918.2,991.2 L920.6,991.9 L923.0,992.6 L926.5,991.2 L928.2,989.5 M652.5,990.0 L651.0,991.4 L649.5,993.0 L647.5,993.8 L646.8,996.2 L646.0,998.6 L646.2,1001.2 L643.8,1001.2 L642.2,1003.2 L640.0,1003.8 L639.4,1005.9 L639.5,1008.1 L639.5,1010.4 L638.8,1012.5 L637.3,1013.9 L635.8,1015.3 L633.8,1015.9 L632.5,1017.5 L633.6,1019.9 L634.4,1022.4 L635.0,1025.0 L634.5,1027.0 L632.9,1028.4 L632.0,1030.2 L631.0,1032.0 L630.0,1033.8 L627.7,1033.9 L625.5,1034.7 L623.4,1035.5 L621.2,1036.2 L619.8,1037.9 L619.1,1039.9 L617.9,1041.6 L617.5,1043.8 L615.9,1045.4 L614.6,1047.2 L613.6,1049.3 L612.5,1051.2 L613.3,1053.4 L613.2,1055.6 L612.9,1057.9 L613.8,1060.0 L611.8,1060.8 L609.9,1061.9 L608.8,1063.8 L606.9,1062.9 L605.2,1061.5 L603.0,1061.2 L601.2,1060.0 L600.1,1062.2 L598.6,1064.0 L596.2,1065.0 L594.6,1067.2 L592.0,1068.2 M796.2,990.0 L795.0,991.8 L793.1,992.8 L791.7,994.4 L789.9,995.6 L788.8,997.5 L787.5,999.6 L786.7,1001.9 L785.0,1003.8 L786.9,1005.3 L788.6,1007.1 L789.6,1009.5 L791.2,1011.2 L789.2,1011.7 L787.6,1013.0 L785.9,1014.1 L784.2,1015.1 L782.5,1016.2 L781.6,1018.3 L780.7,1020.5 L780.0,1022.6 L780.0,1025.0 L781.6,1026.8 L783.3,1028.4 L785.0,1030.0 L786.8,1031.0 L788.7,1031.6 L790.6,1032.4 L791.9,1034.2 L793.8,1035.0 L794.1,1037.2 L794.8,1039.3 L795.5,1041.5 L795.0,1043.8 L793.6,1045.8 L791.5,1046.6 L789.4,1047.5 L787.5,1048.8 L785.4,1048.2 L783.3,1048.2 L781.2,1048.7 L779.2,1048.6 L777.1,1049.4 L775.0,1048.8 L775.2,1051.0 L774.5,1053.0 L773.8,1055.0 L775.0,1056.9 L776.0,1058.9 L777.0,1061.0 L778.8,1062.5 L776.8,1062.2 L774.7,1062.1 L772.7,1062.3 L770.7,1062.0 L768.8,1061.2 L769.1,1063.6 L768.0,1065.7 L767.8,1068.0 L767.3,1070.2 L767.5,1072.5 L768.2,1074.4 L768.2,1076.5 L768.1,1078.5 L768.8,1080.5 L768.8,1082.5 L768.0,1085.0 L767.7,1087.7 L766.2,1090.0 L767.9,1091.6 L769.5,1093.4 L771.2,1095.0 L770.7,1097.2 L771.2,1099.5 L770.4,1101.6 L770.0,1103.8 L768.1,1104.7 L766.2,1105.7 L763.8,1105.5 L761.9,1106.6 L760.0,1107.5 L758.0,1108.1 L756.2,1109.3 L754.1,1109.8 L752.5,1111.2 L750.6,1112.2 L748.5,1112.9 L746.4,1113.3 L744.6,1114.6 L742.5,1115.0 L740.4,1116.1 L738.0,1116.2 L735.8,1116.5 L733.4,1116.5 L731.2,1117.5 L730.6,1119.6 L730.9,1121.9 L730.6,1124.1 L730.0,1126.2 L730.1,1128.4 L731.2,1130.4 L731.2,1132.5 L730.3,1134.4 L729.1,1136.1 L727.5,1137.5 M980.0,1057.5 L977.9,1057.2 L975.9,1056.7 L973.7,1057.2 L971.6,1056.9 L969.6,1056.0 L967.5,1056.2 L965.4,1055.3 L963.3,1054.4 L961.1,1053.7 L958.8,1053.8 L956.8,1055.0 L955.4,1056.9 L953.7,1058.5 L951.8,1059.8 L950.0,1061.2 L947.8,1061.5 L946.0,1062.9 L943.9,1063.2 L942.1,1064.4 L940.0,1065.0 L938.1,1065.7 L936.1,1066.3 L934.1,1066.2 L932.0,1065.7 L930.0,1066.2 L928.1,1067.2 L926.2,1068.0 L924.6,1069.5 L922.5,1070.0 L920.5,1071.0 L918.4,1071.4 L916.5,1072.6 L914.3,1073.0 L912.0,1072.9 L910.0,1073.8 L907.7,1073.9 L905.7,1072.9 L903.5,1072.5 L901.2,1072.5 L900.2,1074.5 L899.2,1076.5 L897.5,1078.1 L896.2,1080.0 L896.6,1082.5 L897.3,1085.0 L897.5,1087.5 L895.5,1088.1 L893.7,1089.2 L891.6,1089.7 L890.0,1091.2 L889.4,1093.4 L888.8,1095.6 L887.7,1097.7 L887.5,1100.0 L885.0,1100.5 L882.4,1100.5 L880.0,1101.2 L880.6,1103.2 L881.7,1104.9 L882.8,1106.6 L883.5,1108.5 L885.0,1110.0 L884.5,1112.1 L883.0,1113.8 L882.1,1115.8 L882.0,1118.0 L881.2,1120.0 L879.3,1121.6 L876.7,1121.5 L874.4,1122.2 L872.5,1123.8 L870.5,1125.1 L868.6,1126.5 L867.5,1128.8 L867.1,1131.0 L866.6,1133.2 L865.9,1135.4 L865.0,1137.5 M927.5,990.0 L929.7,990.3 L931.7,990.9 L933.4,992.5 L935.5,993.1 L937.5,993.8 L937.0,996.0 L936.4,998.2 L935.4,1000.3 L935.0,1002.5 L933.0,1003.2 L931.3,1004.6 L929.6,1006.1 L927.7,1007.0 L925.8,1008.1 L923.8,1008.8 L924.7,1010.7 L924.7,1012.9 L925.0,1015.0 L927.3,1016.4 L929.9,1017.0 L932.5,1017.5 L934.5,1018.3 L936.2,1019.5 L937.5,1021.2 L939.5,1022.0 L941.5,1022.8 L943.8,1022.5 L942.8,1025.0 L942.1,1027.5 L941.2,1030.0 L942.8,1031.5 L943.6,1033.4 L945.0,1035.0 L942.8,1035.7 L941.1,1037.2 L939.2,1038.4 L937.5,1040.0 L936.7,1042.7 L935.0,1045.0 L936.9,1046.0 L938.9,1046.7 L941.2,1046.7 L943.1,1047.6 L945.0,1048.8 L946.8,1050.4 L949.0,1051.6 L950.4,1053.7 L952.5,1055.0 L954.6,1054.8 L956.7,1054.4 L958.8,1053.8 M851.2,1158.0 L853.1,1158.9 L855.1,1159.5 L857.2,1159.2 L859.3,1159.1 L861.2,1160.0 L861.8,1162.2 L862.1,1164.5 L863.3,1166.5 L863.8,1168.8 L862.7,1170.7 L860.9,1172.3 L860.3,1174.5 L858.8,1176.2 L861.1,1175.2 L863.8,1175.8 L866.2,1175.0 L868.4,1175.8 L870.3,1177.0 L872.4,1178.0 L873.8,1180.0 L874.6,1181.9 L874.6,1184.0 L875.6,1185.9 L876.4,1187.8 L876.2,1190.0 L878.6,1190.5 L880.9,1191.1 L883.0,1192.2 L885.3,1192.9 L887.5,1193.8 L889.4,1195.2 L890.6,1197.3 L892.5,1198.8 L891.4,1200.7 L890.0,1202.5 L889.3,1204.7 L887.5,1206.2 L886.0,1208.0 L885.0,1210.0 L887.3,1210.3 L889.3,1211.3 L891.4,1212.6 L893.8,1212.5 L894.5,1214.7 L894.8,1216.9 L896.1,1218.9 L896.2,1221.2 L894.4,1222.9 L893.2,1225.0 M1175.8,1001.2 L1177.5,1002.2 L1179.7,1002.5 L1181.6,1003.2 L1183.2,1004.6 L1185.0,1005.5 L1186.7,1004.1 L1188.0,1002.3 L1190.0,1001.2 L1191.7,1000.0 L1193.4,998.7 L1195.7,998.6 L1197.5,997.5 L1199.4,998.7 L1201.8,998.4 L1203.8,999.1 L1206.0,999.6 L1207.9,1000.7 L1210.0,1001.2 L1211.1,1003.1 L1212.2,1005.0 L1212.9,1007.1 L1214.5,1008.8 L1213.8,1010.6 L1213.4,1012.6 L1212.7,1014.6 L1212.9,1016.7 L1211.9,1018.5 L1211.1,1020.4 L1211.2,1022.5 L1209.2,1023.4 L1207.5,1025.0 L1209.3,1026.2 L1211.5,1026.0 L1213.6,1026.3 L1215.5,1027.0 L1217.5,1027.5 L1218.9,1029.8 L1219.3,1032.4 L1220.0,1035.0 L1222.1,1034.6 L1224.2,1035.3 L1226.2,1036.2 L1228.4,1035.4 L1230.5,1035.7 L1232.5,1036.2 L1234.8,1036.8 L1236.5,1038.3 L1238.3,1039.7 L1240.0,1041.2 L1242.2,1040.4 L1244.5,1040.5 L1246.8,1041.1 L1249.0,1041.2 L1251.2,1041.2 L1251.6,1043.5 L1252.6,1045.6 L1252.9,1047.9 L1253.8,1050.0 L1252.7,1052.0 L1251.6,1054.0 L1251.2,1056.2 L1253.5,1056.4 L1255.8,1056.7 L1258.0,1057.0 L1259.0,1059.7 L1258.8,1062.5 L1256.8,1063.8 L1254.6,1064.3 L1252.5,1065.0 L1250.4,1064.4 L1248.4,1063.9 L1246.2,1064.5 L1244.9,1066.1 L1244.7,1068.2 L1243.8,1070.0 L1242.2,1071.8 L1240.2,1073.1 L1238.8,1075.0 L1239.5,1077.4 L1240.5,1079.6 L1242.5,1081.2 L1244.2,1082.3 L1246.1,1083.1 L1247.6,1084.5 L1249.5,1085.3 L1251.2,1086.2 L1253.6,1086.1 L1255.6,1085.1 L1257.7,1083.9 L1260.0,1083.8 L1262.0,1083.4 L1264.0,1083.7 L1266.0,1084.0 L1268.0,1083.7 L1270.0,1083.8 L1271.2,1087.5 L1268.9,1087.5 L1266.9,1089.0 L1264.8,1089.6 L1262.5,1090.0 L1265.0,1093.0 L1267.1,1092.9 L1269.1,1093.2 L1270.9,1094.5 L1272.9,1095.2 L1275.0,1095.0 L1277.2,1095.5 L1279.2,1094.7 L1281.2,1093.5 L1283.2,1092.9 L1285.3,1092.7 L1287.5,1093.0 L1289.6,1093.7 L1291.8,1093.6 L1293.8,1094.6 L1296.1,1094.5 L1298.3,1094.2 L1300.3,1095.3 L1302.5,1095.5 L1304.5,1096.0 L1306.5,1096.0 L1308.5,1096.1 L1310.5,1096.4 L1312.5,1096.2 L1313.7,1094.6 L1315.1,1093.2 L1316.6,1091.8 L1317.8,1090.1 L1319.6,1089.1 L1321.1,1087.7 L1322.5,1086.2 L1323.6,1084.1 L1325.8,1082.8 L1326.7,1080.4 L1328.2,1078.6 L1330.0,1077.0 L1332.1,1077.6 L1333.7,1079.3 L1335.8,1079.9 L1337.5,1081.2 L1338.9,1079.6 L1341.2,1079.4 L1342.8,1078.1 L1344.8,1077.5 L1346.6,1076.6 L1348.5,1075.8 L1350.0,1074.2 L1351.0,1076.2 L1351.6,1078.2 L1352.8,1080.0 L1353.6,1082.1 L1355.0,1083.8 L1357.6,1084.9 L1360.0,1086.2 L1361.4,1088.6 L1361.7,1091.2 L1362.5,1093.8 L1363.6,1095.6 L1365.5,1096.7 L1367.0,1098.3 L1368.4,1099.8 L1370.0,1101.2 L1371.9,1102.2 L1373.0,1104.0 M1100.0,1085.0 L1099.5,1087.2 L1098.9,1089.3 L1099.2,1091.6 L1098.8,1093.8 L1097.7,1095.8 L1096.0,1097.2 L1094.3,1098.6 L1092.5,1100.0 L1092.1,1102.2 L1092.3,1104.4 L1092.3,1106.7 L1091.2,1108.8 L1091.9,1111.0 L1093.0,1113.2 L1094.1,1115.3 L1095.0,1117.5 L1093.8,1119.9 L1093.7,1122.6 L1092.5,1125.0 L1093.5,1126.9 L1094.3,1129.0 L1095.8,1130.6 L1097.0,1132.5 L1096.0,1134.4 L1094.3,1136.0 L1093.9,1138.3 L1092.5,1140.0 L1093.4,1141.9 L1094.4,1143.8 L1095.3,1145.6 L1096.2,1147.5 L1094.8,1149.3 L1093.6,1151.2 L1092.3,1153.0 L1091.2,1155.0 L1092.4,1156.8 L1092.9,1158.9 L1094.0,1160.6 L1095.0,1162.5 L1097.3,1162.3 L1099.5,1162.1 L1101.7,1162.9 L1104.0,1163.5 L1106.2,1163.0 L1105.9,1165.5 L1106.4,1167.8 L1107.5,1170.0 L1105.0,1170.5 L1102.8,1171.7 L1101.2,1173.8 L1101.3,1175.9 L1101.6,1178.0 L1102.5,1180.0 L1105.1,1180.0 L1107.6,1180.1 L1110.0,1181.2 L1112.2,1181.9 L1113.4,1183.7 L1115.0,1185.0 L1112.9,1185.4 L1111.2,1186.7 L1109.1,1187.3 L1107.5,1188.8 L1106.0,1190.2 L1104.0,1191.1 L1102.5,1192.5 L1103.1,1194.7 L1104.5,1196.5 L1105.0,1198.8 L1107.7,1199.6 L1110.0,1201.2 L1110.7,1203.8 L1111.6,1206.3 L1112.5,1208.8 L1113.5,1211.0 L1114.9,1213.0 L1116.2,1215.0 L1115.8,1217.5 L1116.0,1220.0 L1116.2,1222.5 L1114.2,1224.2 L1112.5,1226.2 L1113.7,1228.2 L1115.2,1229.8 L1116.9,1231.2 L1118.8,1232.5 L1118.8,1235.3 L1120.0,1237.7 L1121.2,1240.0 L1121.0,1242.6 L1121.8,1245.0 L1122.5,1247.5 L1121.7,1249.4 L1122.0,1251.5 L1121.9,1253.5 L1121.3,1255.5 L1121.2,1257.5 M980.0,1057.5 L981.5,1059.0 L983.2,1060.1 L984.9,1061.2 L986.8,1061.9 L988.8,1062.5 L988.3,1064.6 L988.3,1066.6 L989.6,1068.5 L990.1,1070.5 L990.0,1072.5 L991.3,1074.3 L992.1,1076.4 L992.7,1078.7 L993.4,1080.8 L995.0,1082.5 L993.8,1084.9 L993.8,1087.6 L992.5,1090.0 L994.3,1091.7 L995.5,1093.8 L996.8,1096.0 L998.8,1097.5 L999.4,1099.6 L999.0,1101.9 L999.1,1104.1 L1000.0,1106.2 L1000.8,1108.5 L1002.2,1110.2 L1003.1,1112.3 L1005.0,1113.8 L1007.0,1114.6 L1009.2,1114.3 L1011.2,1115.1 L1013.3,1114.9 L1015.3,1115.5 L1017.5,1115.0 L1019.7,1115.0 L1021.9,1114.9 L1024.1,1114.5 L1026.2,1113.8 L1028.2,1112.9 L1030.1,1112.4 L1032.3,1113.0 L1034.2,1111.8 L1036.2,1112.0 M1160.0,1030.0 L1162.1,1029.1 L1164.2,1028.4 L1166.2,1027.5 L1166.8,1025.0 L1166.2,1022.5 M915.0,322.5 L915.0,330.0 L905.0,336.2 L890.0,342.5 L873.8,348.0"/>
<path class="blue" d="M324.5,477.5 L325.0,479.7 L326.0,481.7 L325.6,484.1 L326.2,486.2 L327.7,488.2 L328.9,490.3 L330.0,492.5 L330.0,495.1 L329.2,497.5 L328.8,500.0 L328.2,502.1 L327.4,504.0 L326.2,505.8 L325.0,507.5 L324.1,509.4 L323.5,511.4 L322.3,513.2 L321.2,515.0 L320.4,517.2 L318.6,518.9 L318.0,521.2 L319.5,522.9 L320.5,525.0 L318.7,526.8 L317.6,529.1 L316.2,531.2 L315.3,533.1 L314.8,535.2 L313.3,536.8 L312.5,538.8 L312.4,540.9 L312.0,543.0 L311.2,545.0 L310.6,547.3 L309.1,549.0 L307.1,550.4 L306.2,552.5 L304.7,554.0 L303.9,556.0 L303.8,558.3 L302.5,560.0 L301.7,562.0 L301.1,564.0 L300.7,566.1 L301.0,568.4 L301.0,570.5 L300.0,572.5 L299.3,574.4 L297.7,575.8 L296.8,577.6 L295.7,579.3 L295.0,581.2 L293.6,582.9 L292.0,584.3 L290.3,585.6 L288.7,586.9 L287.5,588.8 M833.0,340.8 L832.9,343.1 L832.9,345.4 L833.4,347.7 L833.0,350.0 L834.2,352.4 L834.7,354.9 L834.5,357.5 L833.5,359.3 L833.2,361.4 L832.0,363.1 L831.2,365.0 L829.3,366.2 L827.4,367.4 L825.3,368.3 L823.8,370.0 L822.8,372.0 L821.6,373.9 L820.7,376.0 L819.9,378.1 L818.8,380.0 L818.5,382.5 L818.3,385.1 L817.5,387.5 L818.5,389.4 L818.0,391.6 L818.4,393.6 L819.4,395.4 L819.5,397.5 L819.8,399.6 L821.0,401.4 L821.2,403.5 L821.8,405.5 L822.5,407.5 L823.4,410.2 L825.0,412.5 L824.8,414.6 L824.1,416.6 L824.5,418.8 L825.3,421.5 L827.0,423.8 L826.1,425.6 L825.8,427.7 L825.0,429.6 L823.8,431.2 L823.8,433.9 L822.8,436.3 L822.0,438.8 L821.9,441.3 L821.9,443.8 L822.5,446.2 L822.8,448.8 L823.8,451.2 L822.5,452.9 L821.5,454.7 L820.0,456.2 L818.2,457.6 L816.7,459.2 L815.1,460.7 L813.8,462.5 L812.7,464.3 L811.5,466.1 L810.7,468.0 L810.0,470.0 L811.0,472.4 L811.9,474.9 L812.5,477.5 L812.8,479.6 L812.9,481.7 L812.1,483.8 L812.1,485.8 L812.2,487.9 L812.5,490.0 L811.7,492.2 L811.0,494.5 L810.7,496.9 L809.7,499.1 L808.8,501.2 L807.2,502.7 L805.9,504.4 L804.3,505.8 L802.3,506.8 L801.2,508.8 L798.9,508.5 L796.9,509.9 L794.6,509.6 L792.5,510.5 L790.1,510.6 L787.8,511.3 L785.6,511.9 L783.5,513.3 L781.2,513.8 L779.8,515.4 L777.8,516.3 L775.8,517.2 L774.5,519.0 L772.5,520.0 L771.6,522.0 L769.4,522.7 L767.7,523.9 L766.7,525.9 L764.9,527.0 L763.8,528.8 L763.1,531.0 L761.9,533.1 L761.9,535.6 L760.8,537.8 L760.0,540.0 L758.7,541.7 L757.0,543.0 L755.9,544.9 L754.0,546.0 L752.5,547.5 L751.3,549.4 L749.5,550.8 L748.2,552.6 L746.2,553.8 L746.6,555.9 L746.8,558.1 L746.7,560.3 L746.2,562.5 L744.7,564.3 L742.8,565.7 L741.2,567.5 L740.0,571.2 L742.4,572.7 L745.0,573.8 L747.0,574.1 L748.9,574.7 L751.0,574.6 L753.1,574.3 L755.0,575.0 L757.0,576.1 L759.1,576.9 L760.8,578.4 L763.0,579.0 L765.0,580.0 L767.3,580.8 L769.2,582.2 L770.8,584.1 L772.9,585.1 L775.0,586.2 L777.4,587.5 L780.0,587.9 L782.5,588.8 L785.0,588.5 L787.5,588.0 L789.9,587.0 L792.4,586.3 L795.0,586.2 L797.7,586.4 L800.1,587.6 L802.5,588.8 M286.2,590.0 L284.3,590.7 L282.6,591.7 L280.7,592.5 L279.3,594.1 L277.2,594.4 L275.7,596.0 L274.0,597.0 L272.0,597.5 L272.3,599.6 L271.6,601.6 L271.6,603.6 L271.4,605.7 L271.2,607.7 L270.6,609.7 L270.2,611.8 L269.9,613.8 L270.4,615.9 L270.8,618.0 L270.0,620.0 L272.1,620.7 L273.8,621.9 L275.0,623.8 L277.0,624.6 L278.2,626.4 L280.3,627.0 L281.6,628.8 L283.5,629.8 L285.0,631.2 L286.6,632.6 L288.1,634.0 L289.8,635.2 L291.9,635.9 L293.8,636.9 L295.2,638.4 L296.4,640.3 L298.3,641.3 L300.2,642.3 L301.7,643.6 L303.1,645.3 L305.0,646.2 L306.6,647.7 L308.3,649.1 L309.0,651.3 L310.7,652.7 L312.2,654.2 L313.8,655.7 L315.0,657.5 L317.0,658.2 L318.4,659.9 L320.1,661.1 L322.2,661.7 L323.8,663.1 L325.4,664.4 L327.5,665.0 L327.8,667.2 L327.6,669.4 L328.9,671.4 L328.6,673.6 L328.7,675.8 L329.8,677.8 L330.0,680.0 L329.2,682.1 L328.2,684.1 L327.3,686.2 L325.6,687.8 L324.4,689.7 L323.2,691.6 L322.5,693.8 L321.4,695.5 L321.2,697.6 L320.8,699.6 L320.0,701.4 L318.6,703.1 L318.0,705.0 L319.1,707.0 L319.2,709.1 L319.9,711.2 L320.5,713.2 L321.0,715.3 L321.2,717.5 L322.5,719.2 L324.1,720.8 L325.5,722.4 L326.1,724.6 L327.5,726.2 L329.2,727.8 L331.3,728.7 L333.3,729.7 L335.0,731.2 L336.6,732.9 L338.8,733.8 L337.4,735.7 L337.0,738.1 L336.1,740.2 L335.5,742.5 L335.7,744.8 L335.5,747.1 L335.8,749.4 L336.5,751.6 L336.1,754.0 L336.2,756.2 L337.5,758.1 L339.3,759.5 L341.2,760.7 L342.5,762.5 L345.0,761.9 L347.5,762.0 L349.9,762.3 L351.8,763.7 L353.9,764.6 L356.2,765.0 L358.2,765.8 L360.1,766.6 L362.1,767.3 L363.8,768.8 L366.2,767.9 L368.9,768.1 L371.2,767.0 L373.6,766.4 L375.7,765.5 L377.5,763.8 L379.6,764.2 L381.3,765.7 L383.3,766.6 L385.3,767.3 L387.5,767.5 L389.3,766.4 L391.4,766.2 L393.4,765.7 L395.2,764.7 L397.0,763.5 L398.8,762.5 L401.0,763.3 L403.0,764.8 L405.2,765.6 L407.5,766.2 L410.0,766.7 L412.6,766.9 L415.0,768.0 L416.9,766.7 L419.2,766.8 L421.2,766.2 L423.5,766.6 L425.8,767.0 L427.9,767.7 L430.0,768.8 L432.2,768.8 L434.3,769.5 L436.6,769.5 L438.8,769.2 L440.9,770.1 L443.1,770.4 L445.3,770.4 L447.5,770.5 L447.4,772.9 L448.3,775.2 L448.8,777.5 L450.9,778.2 L453.1,778.6 L455.0,780.0 L457.0,781.0 L458.9,782.2 L461.2,782.5 L462.5,784.2 L463.3,786.1 L464.2,788.1 L465.0,790.0 L465.2,792.1 L465.6,794.2 L464.8,796.2 L465.5,798.3 L465.0,800.4 L465.0,802.5 L463.6,804.5 L462.0,806.4 L460.0,807.9 L458.8,810.0 L459.4,812.0 L459.7,814.2 L460.0,816.2 L461.5,818.0 L462.5,820.0 L463.7,821.9 L465.0,823.8 L466.9,825.0 L469.2,825.4 L471.0,826.8 L472.9,827.9 L475.0,828.8 L477.1,828.8 L478.9,830.2 L480.9,830.8 L482.9,831.3 L485.0,831.2 L486.6,833.0 L488.6,833.9 L490.3,835.5 L492.5,836.2 L494.6,836.6 L496.4,837.7 L498.3,838.7 L500.6,838.4 L502.5,839.2 L504.6,838.8 L506.8,838.8 L508.7,837.5 L510.8,837.2 L513.0,837.2 L515.0,836.2 L517.2,837.1 L519.5,837.8 L521.5,839.2 L523.8,840.0 L525.0,842.1 L526.3,844.2 L528.1,845.9 L530.0,847.5 L532.1,848.8 L533.6,850.8 L535.7,852.1 L537.5,853.8 L539.1,855.3 L540.4,857.1 L541.7,858.9 L543.8,860.0 L543.8,862.2 L544.7,864.3 L544.8,866.5 L545.0,868.8 L544.3,870.8 L543.4,872.8 L543.4,875.1 L542.5,877.1 L542.4,879.3 L541.2,881.2 L541.5,883.4 L542.9,885.3 L543.2,887.5 L544.2,889.5 L544.8,891.5 L545.0,893.8 L544.5,895.8 L543.9,897.8 L543.3,899.8 L542.5,901.7 L541.6,903.6 L540.2,905.4 L540.0,907.5 L540.9,909.4 L541.9,911.3 L542.9,913.2 L542.8,915.6 L543.8,917.5 L545.3,919.7 L547.5,921.2 L550.1,921.2 L552.4,919.9 L555.0,919.5 M138.8,850.0 L139.6,852.0 L140.1,854.1 L140.9,856.0 L141.4,858.1 L142.5,860.0 L144.2,861.3 L145.2,863.3 L146.8,864.7 L148.3,866.2 L150.0,867.5 L151.7,868.7 L153.5,869.5 L155.5,870.0 L157.3,871.0 L158.8,872.5 L159.7,874.4 L160.8,876.3 L161.1,878.5 L162.1,880.4 L162.5,882.5 L163.3,884.4 L164.2,886.2 L164.9,888.2 L166.0,889.9 L167.2,891.7 L167.5,893.8 L168.7,895.6 L169.7,897.7 L171.4,899.3 L173.0,900.9 L173.6,903.3 L175.0,905.0 L177.0,906.3 L179.2,907.3 L181.4,908.3 L183.8,908.8 L184.4,911.0 L184.7,913.4 L185.4,915.7 L186.3,917.9 L187.5,920.0 L187.9,922.2 L188.9,924.1 L190.3,925.8 L192.0,927.3 L192.7,929.4 L193.8,931.2 L195.5,932.7 L197.6,933.8 L199.3,935.4 L200.6,937.4 L202.5,938.8 L204.2,940.5 L205.9,942.3 L207.8,943.8 L210.0,945.0 L212.6,945.6 L214.9,946.8 L217.5,947.5 L219.8,948.3 L221.5,950.2 L223.8,951.2 L226.3,951.5 L228.7,952.6 L231.2,952.5 L232.8,954.0 L233.6,956.1 L235.4,957.5 L236.0,959.7 L237.5,961.2 L238.3,963.4 L239.8,965.1 L241.1,967.0 L242.5,968.8 L244.6,969.0 L246.6,969.5 L248.6,969.7 L250.6,970.4 L252.5,971.2 L254.6,970.9 L256.5,971.7 L258.5,972.0 L260.5,972.1 L262.5,972.5 L264.0,974.5 L264.6,976.9 L266.2,978.8 L268.2,980.3 L270.3,981.4 L272.8,981.7 L275.0,982.5 L277.0,983.1 L278.8,984.0 L280.1,985.7 L282.0,986.4 L283.8,987.5 M802.5,590.0 L803.9,592.0 L804.8,594.2 L805.2,596.6 L806.2,598.8 L808.1,599.9 L809.6,601.4 L811.0,603.0 L812.1,604.9 L813.8,606.2 L815.9,607.4 L817.8,609.0 L819.4,610.9 L821.2,612.5 L823.5,613.2 L825.2,614.6 L826.8,616.4 L828.8,617.5 L829.5,619.5 L830.0,621.6 L831.2,623.4 L831.6,625.6 L832.5,627.5 L833.7,629.2 L834.1,631.3 L834.7,633.3 L836.2,634.8 L837.0,636.7 L837.5,638.8 L839.0,640.6 L839.7,642.9 L841.6,644.5 L842.7,646.6 L843.8,648.8 L845.3,650.4 L847.7,651.0 L849.1,652.9 L851.2,653.8 L853.5,653.6 L855.8,654.2 L858.0,654.4 L860.2,654.9 L862.5,655.0 L864.6,655.6 L866.5,656.4 L868.4,657.6 L870.6,657.7 L872.5,658.8 L874.4,659.5 L876.6,659.1 L878.6,659.3 L880.6,659.6 L882.5,660.5 L884.7,661.2 L887.0,661.9 L889.1,662.8 L891.2,663.8 L893.4,664.3 L895.2,665.4 L897.2,666.2 L899.1,667.3 L900.7,668.9 L902.5,670.0 L904.6,670.9 L906.7,671.6 L909.0,671.9 L910.8,673.4 L913.1,673.7 L915.0,675.0 L917.0,676.1 L919.2,677.0 L921.1,678.5 L923.5,678.9 L925.6,679.9 L927.5,681.2 L929.0,683.1 L928.9,685.5 L930.0,687.5 L931.9,688.2 L934.0,688.4 L936.1,688.6 L937.9,689.8 L940.0,690.0 L942.0,691.2 L944.3,692.1 L946.1,693.6 L948.1,694.8 L950.0,696.2 L951.2,697.9 L953.2,698.9 L954.2,700.8 L955.4,702.5 L957.5,703.3 L958.8,705.0 L960.9,705.4 L963.1,705.9 L965.3,706.4 L967.5,706.2 L969.6,706.6 L971.7,706.0 L973.8,705.9 L975.9,705.6 L977.9,705.2 L980.0,705.0 M555.0,917.5 L557.0,917.0 L559.0,917.4 L561.0,917.5 L563.0,917.3 L565.0,917.5 L567.1,917.2 L569.1,917.0 L571.0,916.2 L573.0,915.4 L575.0,915.0 L577.0,915.1 L579.0,915.5 L581.0,915.2 L583.0,915.8 L585.0,915.5 L586.3,917.1 L587.8,918.6 L589.3,919.9 L591.3,920.8 L592.5,922.5 L593.7,924.3 L594.6,926.3 L595.9,928.0 L597.1,929.8 L598.8,931.2 L600.5,933.0 L602.0,934.9 L603.3,937.0 L605.0,938.8 L606.2,940.5 L608.3,941.0 L610.0,942.1 L611.2,943.8 L613.4,943.8 L615.4,944.3 L617.2,945.3 L619.3,945.6 L621.2,946.2 L622.4,948.4 L624.1,950.2 L625.6,952.1 L627.5,953.8 L629.1,955.3 L631.0,956.2 L633.3,956.3 L635.0,957.5 L637.0,958.6 L638.7,960.1 L640.5,961.5 L642.5,962.5 L642.0,964.8 L642.9,967.0 L642.9,969.2 L642.4,971.5 L643.0,973.8 L644.9,974.8 L646.9,975.7 L648.4,977.2 L650.0,978.8 L652.6,978.7 L655.1,978.8 L657.5,980.0 L659.1,981.7 L660.0,983.8 L661.1,985.7 L662.5,987.5 L665.0,990.0 M980.0,705.5 L982.1,704.8 L984.1,704.7 L986.2,704.8 L988.3,704.7 L990.4,704.5 L992.5,705.0 L994.7,705.1 L997.0,705.1 L999.3,704.9 L1001.5,705.4 L1003.8,705.5 L1005.4,703.8 L1007.3,702.4 L1009.1,701.0 L1011.2,700.0 L1013.4,699.4 L1015.6,698.8 L1017.6,697.6 L1020.0,697.5 L1022.2,697.9 L1024.4,697.7 L1026.6,698.0 L1028.8,698.8 L1031.1,697.5 L1033.7,697.5 L1036.2,697.0 L1037.8,698.3 L1039.6,699.3 L1040.6,701.1 L1042.5,702.0 L1044.7,702.9 L1047.0,703.3 L1049.0,704.8 L1051.2,705.5 L1053.2,705.9 L1055.3,706.1 L1057.2,706.5 L1059.2,706.7 L1061.2,707.0 L1062.3,709.1 L1063.8,710.9 L1064.1,713.4 L1065.1,715.5 L1066.2,717.5 L1067.5,719.2 L1069.5,720.1 L1070.8,721.7 L1072.3,723.1 L1073.6,724.7 L1075.0,726.2 L1075.8,728.1 L1077.2,729.6 L1077.8,731.6 L1078.7,733.4 L1080.0,735.0 L1082.1,735.9 L1083.6,737.7 L1085.5,739.0 L1087.5,740.0 L1088.9,741.8 L1089.7,744.0 L1091.6,745.4 L1092.5,747.5 L1093.4,749.6 L1095.0,751.2 L1095.5,753.6 L1096.3,755.9 L1097.6,757.9 L1098.8,760.0 L1098.2,762.5 L1099.1,765.0 L1098.8,767.5 L1099.4,769.8 L1100.9,771.8 L1101.5,774.1 L1102.5,776.2 L1102.9,778.3 L1104.3,779.9 L1105.1,781.8 L1106.2,783.4 L1107.5,785.0 L1106.0,786.7 L1105.9,789.2 L1104.6,791.1 L1103.4,792.9 L1102.5,795.0 L1103.5,797.1 L1104.5,799.1 L1106.4,800.5 L1107.5,802.5 L1109.2,804.3 L1110.7,806.3 L1112.5,808.0 L1114.6,808.6 L1116.5,809.8 L1118.8,810.0 L1120.2,812.0 L1122.2,813.5 L1123.4,815.6 L1125.0,817.5 L1124.0,819.9 L1123.3,822.4 L1123.0,825.0 L1124.0,827.2 L1125.3,829.4 L1126.0,831.8 L1127.5,833.8 L1128.4,836.4 L1130.0,838.8 L1132.4,839.6 L1134.9,840.1 L1137.5,840.0 L1139.4,841.5 L1140.7,843.4 L1142.5,845.0 L1144.1,846.7 L1146.0,847.9 L1147.7,849.3 L1150.0,850.0 L1151.2,851.6 L1152.2,853.3 L1153.4,855.0 L1155.0,856.2 L1156.9,857.2 L1159.0,857.4 L1161.0,857.8 L1162.9,858.8 L1165.0,858.8 L1167.1,858.8 L1169.2,859.0 L1171.2,859.5 L1172.4,861.3 L1172.3,863.6 L1172.6,865.6 L1173.8,867.5 L1174.6,870.0 L1175.5,872.5 L1176.2,875.0 L1178.7,876.1 L1181.2,876.9 L1183.8,877.5 L1184.0,879.5 L1183.7,881.6 L1184.3,883.5 L1185.2,885.4 L1185.0,887.5 L1186.3,889.6 L1187.4,891.7 L1188.7,893.8 L1189.2,896.2 L1187.9,897.8 L1186.5,899.3 L1184.9,900.8 L1183.8,902.5 L1181.5,903.6 L1180.1,905.7 L1178.3,907.4 L1176.2,908.8 L1174.3,910.3 L1172.3,911.6 L1170.4,913.2 L1168.8,915.0 L1168.8,917.2 L1167.7,919.1 L1167.7,921.3 L1167.7,923.5 L1166.3,925.3 L1166.2,927.5 L1166.6,929.6 L1165.8,931.7 L1166.5,933.8 L1166.7,935.8 L1165.9,937.9 L1166.2,940.0 L1166.1,942.1 L1166.0,944.1 L1167.3,946.0 L1167.1,948.0 L1167.5,950.0 L1168.0,952.0 L1168.8,953.9 L1169.2,956.0 L1169.2,958.1 L1170.0,960.0 L1169.7,962.1 L1169.0,964.1 L1168.6,966.2 L1168.8,968.3 L1169.3,970.4 L1168.8,972.5 L1169.8,974.4 L1169.9,976.5 L1169.9,978.6 L1170.0,980.7 L1171.2,982.5 L1171.6,985.2 L1173.3,987.4 L1173.8,990.0 M281.2,990.0 L281.1,992.1 L281.7,994.0 L282.6,995.9 L282.7,998.0 L283.0,1000.0 L282.0,1001.9 L282.0,1004.1 L280.6,1005.9 L280.1,1008.0 L279.5,1010.0 L279.7,1012.3 L279.7,1014.5 L279.7,1016.8 L278.7,1019.0 L278.8,1021.2 L276.4,1022.1 L274.6,1023.7 L272.5,1025.0 L270.1,1024.9 L268.0,1026.1 L265.9,1027.1 L263.5,1026.8 L261.2,1027.5 L260.9,1030.0 L261.5,1032.5 L261.2,1035.0 L261.0,1037.6 L260.7,1040.1 L259.5,1042.5 L260.1,1044.7 L260.4,1046.9 L260.7,1049.1 L261.2,1051.2 L263.4,1051.7 L265.6,1051.8 L267.8,1051.3 L270.0,1051.2 L272.3,1051.7 L274.6,1051.8 L276.8,1052.7 L279.0,1053.1 L281.2,1053.8 L281.5,1056.0 L282.3,1058.1 L282.8,1060.3 L283.0,1062.5 L283.7,1064.4 L285.0,1066.1 L285.9,1067.9 L286.2,1070.0 L287.7,1068.4 L289.4,1067.1 L290.5,1065.2 L292.1,1063.8 L293.8,1062.5 L295.7,1063.9 L297.6,1065.5 L299.8,1066.7 L301.2,1068.8 L302.7,1070.3 L304.1,1071.9 L305.9,1073.1 L307.3,1074.7 L308.8,1076.2 L308.9,1078.3 L309.3,1080.4 L310.7,1082.1 L311.1,1084.2 L311.2,1086.2 L312.3,1088.3 L312.2,1090.7 L312.8,1092.9 L313.8,1095.0 L314.7,1097.0 L316.6,1098.2 L317.4,1100.3 L319.1,1101.8 L320.0,1103.8 L322.2,1104.3 L324.1,1105.5 L326.0,1106.8 L328.1,1107.5 L330.0,1108.8 L331.0,1110.5 L332.2,1112.1 L333.2,1113.9 L335.0,1115.0 L337.0,1115.8 L338.8,1116.8 L340.7,1117.6 L342.5,1118.8 L344.7,1118.2 L346.9,1117.5 L349.3,1118.0 L351.4,1117.0 L353.8,1117.0 L355.9,1116.8 L358.0,1117.2 L359.7,1118.6 L361.6,1119.5 L363.8,1119.5 L366.2,1119.4 L368.8,1119.1 L371.2,1119.5 L372.9,1118.2 L374.9,1117.4 L376.9,1116.7 L378.8,1115.8 L380.5,1116.9 L381.7,1118.7 L383.2,1120.1 L385.0,1121.2 L386.1,1123.3 L387.6,1124.9 L389.3,1126.3 L391.2,1127.5 L390.9,1129.6 L391.4,1131.6 L392.2,1133.5 L393.2,1135.4 L393.0,1137.5 L394.9,1139.0 L395.6,1141.5 L397.1,1143.3 L398.8,1145.0 L400.7,1145.9 L403.0,1145.5 L405.0,1146.2 L407.0,1145.6 L408.7,1144.4 L410.5,1143.5 L412.4,1142.7 L414.5,1142.4 L416.2,1141.2 L418.4,1141.6 L420.6,1142.0 L422.8,1140.9 L425.0,1141.2 L427.2,1141.4 L429.4,1142.0 L431.6,1142.2 L433.8,1142.5 L436.0,1142.5 L438.2,1143.1 L440.5,1143.0 L442.8,1142.5 L445.0,1143.0 L447.0,1142.4 L449.0,1142.1 L450.9,1141.6 L452.9,1141.0 L455.0,1141.2 L457.2,1141.6 L459.3,1141.9 L461.5,1142.5 L463.8,1142.0 L465.9,1140.9 L467.6,1139.3 L469.7,1138.1 L471.2,1136.2 L470.6,1134.2 L469.9,1132.2 L469.1,1130.3 L467.5,1128.8 L467.7,1126.5 L467.2,1124.2 L467.2,1122.0 L467.9,1119.8 L467.5,1117.5 L467.8,1115.5 L467.9,1113.5 L467.9,1111.5 L468.7,1109.5 L468.8,1107.5 L468.5,1105.2 L469.6,1103.2 L469.4,1100.9 L470.0,1098.8 L471.2,1096.6 L472.8,1094.7 L474.5,1093.0 L476.2,1091.2 L477.5,1089.6 L479.0,1088.1 L480.1,1086.2 L481.2,1084.5 L480.6,1082.1 L479.1,1080.0 L478.8,1077.5 L476.9,1076.0 L475.1,1074.3 L472.8,1073.2 L471.2,1071.2 L469.6,1069.4 L467.7,1067.9 L465.7,1066.5 L463.8,1065.0 L462.2,1063.6 L461.2,1061.9 L460.3,1060.1 L458.8,1058.8 L459.4,1056.3 L458.9,1053.7 L459.5,1051.2 L457.5,1050.3 L456.2,1048.4 L454.0,1047.8 L452.5,1046.2 L450.5,1045.0 L448.7,1043.4 L446.7,1042.2 L444.5,1041.2 L444.4,1039.2 L443.2,1037.3 L442.9,1035.3 L442.4,1033.3 L442.5,1031.2 L441.6,1029.3 L441.7,1027.2 L441.1,1025.3 L440.2,1023.4 L440.5,1021.2 L440.1,1019.1 L440.9,1017.2 L441.5,1015.2 L442.1,1013.2 L442.5,1011.2 L440.8,1009.8 L439.6,1007.9 L438.3,1006.1 L436.2,1005.0 M138.8,1375.0 L139.0,1377.2 L139.6,1379.3 L140.9,1381.0 L141.8,1383.0 L142.5,1385.0 L144.1,1386.6 L146.4,1387.3 L147.9,1389.1 L150.0,1390.0 L150.5,1392.1 L151.9,1393.7 L153.4,1395.3 L153.8,1397.5 L155.8,1398.4 L157.9,1399.3 L159.9,1400.2 L161.8,1401.5 L163.7,1402.7 L165.4,1404.1 L167.5,1405.0 L169.4,1405.8 L171.3,1406.5 L173.3,1407.1 L175.3,1407.2 L177.4,1407.5 L179.3,1408.0 L181.2,1408.8 L183.1,1410.0 L185.0,1411.2 L186.8,1412.6 L188.5,1414.2 L190.6,1415.0 L192.5,1416.2 L195.0,1415.7 L197.4,1414.7 L200.0,1414.5 L201.9,1415.8 L203.7,1417.3 L205.5,1418.8 L207.5,1420.0 L209.5,1420.8 L211.7,1421.1 L213.6,1421.9 L215.6,1422.6 L217.5,1423.8 L219.6,1424.9 L220.8,1427.0 L222.5,1428.5 L224.1,1430.3 L226.2,1431.2 L227.5,1433.3 L229.8,1434.2 L231.7,1435.6 L233.3,1437.2 L235.0,1438.8 L236.7,1439.9 L238.2,1441.1 L240.0,1442.1 L241.2,1443.8 L243.4,1442.1 L245.0,1440.0 L245.4,1442.1 L246.6,1443.9 L247.9,1445.6 L248.8,1447.5 L250.9,1447.2 L252.9,1446.8 L255.0,1446.2 L256.0,1448.4 L256.7,1450.7 L258.0,1452.7 L258.8,1455.0 L259.4,1457.0 L259.3,1459.2 L260.0,1461.2 L261.7,1462.8 L263.9,1463.6 L265.8,1464.8 L267.5,1466.2 L269.3,1465.2 L271.0,1464.0 L273.2,1463.6 L275.0,1462.5 L276.8,1463.6 L278.8,1464.3 L280.7,1465.1 L282.5,1466.2 M290.0,1466.2 L292.5,1464.5 L293.8,1466.2 M420.5,1466.2 L420.3,1464.0 L420.4,1461.8 L421.0,1459.7 L421.2,1457.5 L422.5,1456.0 L424.1,1454.6 L425.4,1453.1 L426.2,1451.2 L428.5,1449.7 L430.0,1447.5 L431.0,1449.3 L432.7,1450.7 L433.8,1452.5 L435.9,1451.4 L438.3,1451.0 L440.5,1450.1 L442.5,1448.8 L444.4,1449.7 L446.3,1450.4 L448.3,1450.9 L450.5,1450.7 L452.5,1451.2 L454.4,1452.2 L456.3,1453.0 L458.4,1453.1 L460.4,1453.5 L462.5,1453.8 L464.8,1453.9 L467.1,1453.6 L469.4,1453.4 L471.5,1452.5 L473.8,1452.0 L475.2,1454.5 L477.5,1456.2 L479.3,1457.3 L481.3,1458.1 L483.1,1459.0 L485.0,1460.0 L487.1,1460.2 L489.2,1459.6 L491.3,1459.7 L493.3,1460.6 L495.4,1459.9 L497.5,1460.5 L499.6,1460.5 L501.8,1460.5 L503.8,1459.8 L505.9,1459.9 L508.0,1459.7 L510.0,1458.8 L512.1,1458.6 L514.2,1458.7 L516.2,1457.9 L518.3,1457.7 L520.4,1457.2 L522.5,1457.5 L524.4,1458.4 L525.6,1460.4 L527.5,1461.2 L528.5,1463.9 L530.0,1466.2 M662.5,990.0 L665.0,990.6 L667.4,991.2 L670.0,991.2 L672.6,991.7 L675.1,992.6 L677.5,993.8 L679.4,995.3 L681.4,996.6 L683.0,998.6 L685.0,1000.0 L686.9,1001.4 L689.2,1002.2 L690.8,1004.0 L692.8,1005.3 L695.0,1006.2 L697.1,1006.8 L699.1,1007.5 L701.0,1008.6 L702.9,1009.5 L705.0,1010.0 L706.3,1011.7 L707.3,1013.6 L709.1,1015.0 L710.4,1016.7 L711.2,1018.8 L712.8,1020.7 L713.1,1023.1 L713.8,1025.4 L715.0,1027.5 L715.6,1029.5 L716.6,1031.4 L717.9,1033.1 L718.8,1035.0 L718.5,1037.2 L718.2,1039.4 L718.3,1041.6 L717.5,1043.8 L717.2,1046.0 L717.7,1048.3 L717.6,1050.5 L716.9,1052.7 L717.0,1055.0 L718.3,1056.9 L720.4,1057.8 L721.7,1059.7 L723.6,1060.8 L725.0,1062.5 L726.5,1064.3 L728.7,1065.2 L729.9,1067.4 L732.1,1068.4 L733.8,1070.0 L735.3,1071.8 L736.0,1074.2 L737.6,1075.9 L739.1,1077.8 L740.0,1080.0 L741.6,1081.4 L742.2,1083.6 L743.6,1085.1 L745.0,1086.7 L746.2,1088.4 L747.5,1090.0 L748.9,1091.8 L749.6,1094.0 L750.3,1096.1 L752.0,1097.8 L752.5,1100.0 L753.1,1102.0 L752.2,1104.0 L752.4,1106.0 L752.8,1108.0 L752.5,1110.0 L752.7,1112.0 L753.1,1114.0 L753.8,1115.9 L753.1,1118.0 L753.8,1120.0 L753.2,1122.1 L752.6,1124.2 L752.1,1126.3 L750.9,1128.2 L750.7,1130.4 L750.0,1132.5 L751.2,1134.4 L752.1,1136.4 L752.5,1138.7 L753.4,1140.8 L755.0,1142.5 L756.3,1144.4 L756.6,1146.7 L757.8,1148.6 L759.3,1150.3 L760.0,1152.5 L761.1,1154.4 L761.4,1156.5 L761.7,1158.7 L762.5,1160.7 L763.8,1162.5 L762.9,1164.6 L762.1,1166.7 L761.2,1168.8 L759.3,1170.0 L757.6,1171.6 L755.9,1173.2 L754.6,1175.1 L752.5,1176.2 L752.3,1178.7 L751.6,1181.0 L750.8,1183.2 L749.5,1185.2 L748.8,1187.5 L748.1,1189.7 L747.5,1191.9 L746.8,1194.0 L746.2,1196.2 L744.6,1198.1 L742.9,1199.8 L740.7,1201.0 L738.8,1202.5 L736.7,1203.0 L735.3,1204.7 L733.5,1205.5 L731.9,1206.8 L730.0,1207.5 L728.6,1209.1 L726.3,1209.2 L724.5,1210.1 L722.7,1211.0 L721.2,1212.5 L719.7,1214.0 L719.1,1216.2 L717.8,1217.9 L715.9,1219.2 L715.0,1221.2 L713.2,1220.2 L711.4,1219.1 L709.7,1217.8 L707.5,1217.5 L706.4,1215.7 L704.4,1214.7 L703.4,1212.8 L702.0,1211.4 L700.1,1210.3 L698.8,1208.8 L696.6,1207.7 L695.0,1206.1 L693.3,1204.4 L691.5,1203.1 L690.0,1201.2 L687.9,1200.7 L685.9,1199.7 L683.8,1199.1 L682.1,1197.5 L680.0,1197.0 L678.5,1198.4 L677.0,1199.8 L676.0,1201.6 L675.2,1203.6 L673.8,1205.0 L673.0,1207.0 L671.6,1208.4 L670.1,1209.8 L668.8,1211.2 L668.1,1213.5 L667.7,1215.7 L667.3,1217.9 L667.2,1220.2 L667.5,1222.5 M980.0,1141.2 L977.9,1141.0 L975.8,1141.0 L973.7,1141.1 L971.6,1141.2 L969.6,1140.1 L967.5,1140.0 L965.5,1139.7 L963.5,1140.0 L961.5,1140.2 L959.5,1140.4 L957.5,1139.5 L955.3,1139.8 L953.1,1139.9 L950.9,1139.2 L948.8,1139.5 L946.7,1140.7 L944.4,1141.2 L942.2,1141.8 L940.0,1142.5 L937.8,1143.6 L936.0,1145.3 L933.8,1146.2 L932.9,1148.3 L932.4,1150.5 L931.2,1152.5 L929.1,1153.0 L926.9,1153.5 L924.7,1153.2 L922.5,1153.8 L920.5,1153.6 L918.5,1154.3 L916.5,1154.0 L914.5,1153.4 L912.5,1153.8 L910.7,1152.8 L909.6,1151.0 L908.0,1149.8 L906.2,1148.8 L904.4,1147.1 L902.3,1145.9 L900.0,1145.0 L897.9,1144.9 L895.9,1144.3 L894.1,1143.2 L892.1,1142.7 L890.0,1142.5 L888.0,1141.6 L885.9,1141.4 L883.7,1141.3 L881.7,1140.4 L879.5,1140.7 L877.5,1140.0 L875.3,1139.3 L873.1,1138.8 L870.8,1138.8 L868.5,1138.4 L866.2,1138.2 L864.3,1138.7 L862.7,1140.2 L860.8,1141.0 L858.8,1141.2 L857.6,1142.9 L856.9,1144.9 L855.9,1146.6 L854.5,1148.1 L853.8,1150.0 L853.4,1152.1 L854.2,1154.2 L853.8,1156.2 L852.0,1157.3 L850.2,1158.2 L848.2,1158.7 L846.2,1159.2 L843.8,1160.1 L841.3,1160.8 L838.8,1161.2 L836.1,1162.7 L833.8,1164.5 L831.9,1163.4 L830.0,1162.5 L828.0,1162.4 L826.0,1163.0 L824.0,1163.1 L822.0,1163.1 L820.0,1163.0 L817.9,1164.0 L815.9,1165.2 L813.8,1166.2 L812.4,1168.2 L811.6,1170.4 L810.5,1172.5 L811.3,1174.6 L811.9,1176.8 L812.2,1179.0 L812.5,1181.2 L813.2,1183.2 L814.1,1185.0 L815.7,1186.4 L816.1,1188.5 L817.5,1190.0 L817.1,1192.1 L817.5,1194.2 L818.0,1196.3 L817.8,1198.4 L818.1,1200.5 L818.8,1202.5 L819.5,1204.6 L821.2,1206.3 L821.9,1208.4 L822.4,1210.7 L823.8,1212.5 L825.3,1214.4 L826.4,1216.6 L828.4,1218.1 L830.0,1220.0 L831.6,1221.5 L832.9,1223.4 L834.7,1224.7 L836.2,1226.2 L838.3,1224.7 L840.8,1223.8 M1173.8,990.0 L1174.3,992.0 L1174.6,994.0 L1174.2,996.0 L1174.7,998.0 L1175.0,1000.0 L1174.2,1001.9 L1174.3,1004.1 L1173.4,1006.0 L1173.0,1008.0 L1172.5,1010.0 L1171.2,1012.1 L1170.9,1014.5 L1170.4,1016.8 L1169.8,1019.1 L1168.8,1021.2 L1167.3,1022.9 L1165.3,1023.8 L1163.7,1025.3 L1162.0,1026.6 L1160.0,1027.5 L1158.9,1029.3 L1157.2,1030.8 L1156.4,1032.9 L1155.4,1034.8 L1153.8,1036.2 L1152.7,1038.1 L1151.9,1040.1 L1151.5,1042.3 L1151.2,1044.4 L1150.0,1046.2 L1148.8,1048.4 L1147.3,1050.3 L1145.9,1052.3 L1143.8,1053.8 L1141.7,1054.8 L1139.5,1055.3 L1137.1,1055.5 L1135.0,1056.2 L1132.6,1056.3 L1130.6,1057.6 L1128.5,1058.5 L1126.2,1058.8 L1126.3,1060.9 L1126.0,1063.0 L1125.0,1065.0 L1122.8,1065.9 L1120.6,1066.8 L1118.6,1068.2 L1116.2,1068.8 L1114.6,1069.9 L1112.9,1070.9 L1111.0,1071.8 L1109.1,1072.5 L1107.5,1073.8 L1105.8,1075.0 L1104.6,1076.5 L1103.6,1078.3 L1102.5,1080.0 L1100.7,1081.3 L1098.9,1082.6 L1097.2,1084.1 L1096.2,1086.2 L1094.2,1085.4 L1092.2,1084.6 L1090.0,1084.5 L1087.9,1085.8 L1085.7,1086.7 L1083.5,1087.7 L1081.2,1088.8 L1078.8,1089.7 L1076.2,1090.4 L1073.8,1091.2 L1071.5,1090.9 L1069.4,1091.6 L1067.2,1091.9 L1065.0,1092.0 L1062.7,1092.7 L1060.6,1094.0 L1058.4,1095.1 L1056.2,1096.2 L1053.7,1096.1 L1051.3,1097.5 L1048.8,1097.5 L1047.3,1099.2 L1045.4,1100.4 L1044.0,1102.1 L1042.5,1103.8 L1041.4,1105.7 L1040.4,1107.8 L1038.7,1109.4 L1037.5,1111.2 L1035.8,1113.0 L1034.7,1115.3 L1033.4,1117.4 L1031.2,1118.8 L1029.8,1120.2 L1028.1,1121.3 L1026.4,1122.2 L1025.0,1123.8 L1022.5,1123.5 L1020.0,1124.2 L1017.5,1123.8 L1015.0,1124.1 L1012.5,1124.8 L1010.0,1125.0 L1007.9,1124.8 L1005.8,1124.7 L1003.8,1125.0 L1001.6,1126.2 L1000.1,1128.2 L998.2,1129.8 L996.2,1131.2 L994.4,1132.3 L992.5,1133.2 L990.7,1134.3 L988.8,1135.0 L987.3,1136.5 L985.5,1137.5 L983.6,1138.3 L982.0,1139.4 L980.0,1140.0 M1440.0,253.0 L1433.8,268.8 L1436.2,280.5 L1425.0,293.0 L1414.5,303.8 L1422.5,310.0 L1434.2,306.8 L1431.2,320.0 L1427.0,333.8 L1427.5,347.5 L1423.8,360.0 L1421.2,369.2 L1435.0,373.8 L1444.5,377.0 L1446.2,388.2 L1428.8,392.0 L1416.2,410.0 L1405.0,413.8 L1396.2,425.0 L1407.5,442.5 L1399.2,462.5 L1421.2,473.8 L1430.5,492.5 L1440.0,490.5 L1461.2,510.0 L1481.2,512.5 L1511.2,510.0 L1527.5,502.5 L1541.8,495.5 M1255.0,1325.0 L1260.5,1338.0 L1251.2,1348.0 L1240.5,1361.2 L1242.5,1379.5 L1231.2,1393.8 L1221.2,1408.2 L1208.8,1410.5 L1196.2,1403.8 L1186.2,1412.5 L1175.0,1427.5 L1158.8,1448.8 L1138.8,1466.2 L1123.8,1474.5 L1115.0,1487.5 L1120.0,1498.8 L1120.0,1502.5"/>
<path class="thick" d="M336.5,199.0 L341.2,204.5 L350.0,208.8 L360.0,213.0 L370.0,217.0 L381.2,220.0 L387.0,214.5 L388.8,208.8 L391.2,202.5 L391.8,199.0 M138.0,328.0 L141.8,329.9 L145.5,333.3 L148.5,337.0 L150.4,341.5 L151.5,344.5 L151.5,352.8 L154.9,353.5 L159.4,352.0 L162.0,354.3 L165.8,358.0 L169.5,361.0 L173.6,364.0 L175.1,367.8 L177.0,372.6 L183.0,374.1 L186.8,375.3 L189.0,379.8 L190.9,383.9 L195.8,382.0 L201.8,379.8 L210.0,377.9 L217.5,373.4 L222.0,376.0 L226.5,379.0 M215.0,375.7 L218.1,373.6 L222.0,376.2 L226.4,378.8 L225.9,375.7 L227.7,373.1 L230.7,372.2 L233.4,373.1 L235.6,376.2 L237.7,380.6 L241.2,384.5 L246.5,388.0 L251.7,390.2 L255.2,391.9 L258.7,395.0 L263.1,399.4 L267.5,403.7 L272.7,409.4 L277.1,413.8 L281.5,416.9 L286.7,419.1 L292.0,420.4 L297.2,420.5 L302.5,419.5 L306.9,417.3 L311.2,413.4 L314.7,410.7 L320.0,408.6 L328.7,404.6 L337.5,400.7 L346.2,397.2 L355.0,395.0 M350.0,397.5 L372.0,390.0 L405.0,377.5 L430.0,371.2 L467.5,360.0 L500.0,353.8 L510.5,351.2 L515.0,343.8 L523.8,340.8 L526.2,333.8 L535.0,321.2 L542.5,311.2 L550.0,305.0 L555.0,302.5 M226.4,378.8 L228.1,381.0 L231.2,383.6 L233.4,385.8 L232.5,389.7 L229.9,394.1 L226.4,398.5 L229.0,401.1 L236.0,406.8 L244.7,414.7 L245.2,416.9 L240.4,423.0 L233.8,430.9 L241.2,437.0 L250.0,443.1 L258.7,447.9 L267.5,451.9 L276.2,452.7 L282.4,451.4 L286.7,449.7 M229.0,401.1 L232.5,400.2 L234.7,397.2 L237.7,395.4 L240.4,397.2 L239.9,400.2 L238.2,402.9 L242.1,402.0 L245.2,399.4 L245.6,395.4 L247.8,393.7 L251.7,393.7 L254.4,395.9 L255.7,398.9 L258.7,400.2 L260.9,402.9 L261.4,407.2 L260.1,411.2 L258.3,412.9 L256.1,411.2 L253.5,411.6 L251.3,415.1 L250.4,412.5 L251.3,408.6 L250.0,405.9 L246.9,405.5 L244.3,407.7 L243.9,410.7 L246.1,413.8 L247.8,416.9 L248.2,421.2 L245.6,425.2 L241.2,427.4 L236.9,428.2 L233.8,430.9 M233.8,430.9 L237.7,432.6 L243.0,433.9 L246.5,433.1 L246.5,430.0 L247.8,428.2 L249.6,430.0 L249.1,433.1 L252.6,432.6 L256.1,430.9 L259.6,428.7 L264.9,427.8 L271.0,427.8 L276.2,427.4 L280.6,428.2 L284.1,430.9 L286.7,433.9 L290.2,436.6 L292.0,437.4 M289.4,418.6 L286.7,420.4 L285.4,423.0 L286.7,426.5 L288.9,430.0 L290.2,433.5 L292.0,437.4 L294.2,439.6 L295.9,436.6 L299.0,434.8 L301.2,432.6 L299.4,431.3 L299.0,429.1 L295.5,427.8 L292.0,429.1 L289.8,430.4 M299.0,429.1 L300.3,425.6 L302.5,424.3 L304.7,425.2 L305.6,428.2 L307.7,429.6 L311.2,429.1 L315.6,430.0 L320.0,430.9 L323.1,433.1 L324.4,436.1 L323.1,438.3 L323.9,440.1 L326.6,437.0 L328.7,434.4 L327.9,430.0 L329.6,425.6 L333.1,420.4 L337.1,414.7 L337.5,410.7 L337.1,405.5 L341.0,403.3 L344.9,401.1 L348.4,398.1 L349.3,399.8 L346.7,402.9 L345.8,407.2 L344.9,412.5 L344.5,419.5 L343.6,416.0 L341.0,415.1 L339.2,414.7 L335.3,420.4 L331.4,426.5 L329.2,431.7 L328.7,435.2 L327.4,439.6 L324.4,444.0 L321.3,449.7 L319.6,456.2 L320.9,462.4 L321.3,469.4 L321.7,475.5 M339.2,409.0 L342.7,407.7 L344.1,411.6 L341.0,413.4 L339.2,412.5 L339.2,409.0 M286.7,449.7 L292.0,454.5 L299.0,458.9 L306.9,463.2 L313.0,465.9 L316.9,467.2 L319.1,471.1 L321.7,475.5 M286.7,449.7 L286.7,456.2 L286.6,467.6 L289.4,478.1 L292.9,489.5 L296.8,500.0 M297.0,500.0 L300.0,515.0 L305.0,540.0 L300.0,550.0 L298.8,565.0 L298.0,572.5 L293.8,580.0 L286.2,587.5 L282.5,590.0 M228.1,368.3 L229.4,365.7 M152.6,335.5 L152.3,340.0 L153.8,343.8 L156.8,346.4 L159.8,347.9 L162.0,349.4 L162.4,351.3 L165.8,353.9 L170.3,356.1 L174.0,355.8 L177.4,352.8 L176.3,355.8 L174.8,356.5 L175.5,359.1 L180.8,361.4 L184.5,363.3 L187.1,361.8 L188.6,358.8 L187.1,355.8 L184.5,355.0 L182.3,356.9 L181.1,355.4 L183.8,354.3 L186.0,353.5 L187.1,350.5 L189.8,347.5 L192.4,345.6 L192.8,343.4 L197.3,341.5 L201.8,340.4 L205.5,339.3 L208.5,338.9 L211.9,340.4 L215.3,338.9 L217.1,339.3 L213.8,341.5 L211.5,344.1 L215.3,343.8 L218.3,343.0 L219.8,344.5 L216.8,346.8 L215.3,348.6 L218.3,349.4 L220.5,352.0 L222.8,353.5 L222.4,349.4 L224.3,345.3 L227.3,341.1 L223.5,336.6 L220.1,331.8 L216.0,329.1 L211.1,328.0 L208.1,325.0 L206.3,320.5 L205.9,316.0 L207.8,312.6 L211.5,310.0 L215.3,308.1 L218.3,305.1 L218.6,301.0 L217.1,297.3 L213.8,295.0 L209.3,294.4 L203.3,295.8 L198.0,297.6 L198.4,301.0 L198.8,307.0 L198.0,311.5 L197.3,314.9 L200.3,315.6 L202.5,316.8 L202.9,319.8 L201.8,321.3 L202.5,323.5 L201.0,326.1 L198.0,325.8 L195.4,324.3 L195.8,321.6 L198.0,320.9 L196.1,319.0 L196.1,316.0 L195.0,314.5 L192.0,313.8 L189.8,311.5 L187.5,310.0 L186.8,306.3 L185.3,303.3 L183.0,301.0 L181.1,297.6 L178.5,297.3 L174.8,300.3 L174.0,303.3 L174.0,307.0 L172.1,304.8 L171.0,302.1 L168.0,301.4 L162.8,302.1 L156.8,302.5 L157.5,306.3 L159.0,308.9 L165.0,309.3 L165.8,312.3 L168.0,313.8 L167.6,316.0 L164.3,317.5 L160.5,319.0 L157.5,320.5 L153.0,321.3 L154.9,316.8 L157.5,313.8 L160.5,312.6 L163.5,313.8 L162.8,316.8 L159.8,319.8 L156.8,324.3 L161.3,324.6 L163.9,324.3 L165.0,327.3 L166.9,330.3 L169.1,332.5 L166.5,334.4 L162.8,334.4 L157.5,334.8 L153.8,334.8 L152.6,335.5 M198.0,297.6 L195.0,300.3 L191.3,301.0 L186.8,296.9 L184.1,293.9 L183.0,291.3 L180.8,290.1 L177.8,292.8 L174.0,296.9 L170.3,299.5 L167.6,299.1 L168.0,296.5 L170.3,292.8 L172.1,288.6 L171.8,285.6 L169.5,284.9 L166.9,286.8 L167.3,289.8 L165.8,293.5 L162.8,296.9 L159.4,299.5 L157.5,298.8 L160.5,296.5 L163.5,293.9 L165.8,290.5 L164.6,287.5 L164.3,284.5 L166.9,281.9 L171.0,279.3 L177.0,277.8 L183.0,276.6 L189.8,276.3 L189.8,280.8 L186.8,282.3 L184.1,284.1 L183.0,287.5 L183.8,290.5 L185.6,293.5 L189.0,296.5 L193.5,297.3 L198.0,297.6 M145.1,317.1 L145.5,313.0 L147.8,307.8 L149.6,301.0 L150.8,294.3 L152.3,292.0 L154.9,291.6 L156.0,293.5 L155.3,295.4 L152.6,295.4 L151.5,299.5 L150.4,305.5 L148.5,310.8 L147.0,315.3 L145.1,317.1 M180.4,300.3 L183.0,301.0 L183.8,304.8 L180.0,306.6 L180.4,300.3 M244.9,358.8 L247.1,357.6 M228.4,368.1 L229.1,365.5 M155.3,348.6 L154.5,351.3 L157.5,351.3 L160.5,349.0 L157.5,349.4 L155.3,348.6 M555.0,302.5 L570.0,297.5 L585.0,295.0 L600.0,290.0 L615.0,277.5 L630.0,268.8 L645.0,263.8 L665.0,260.0 L685.0,255.5 L705.0,250.8 L720.0,249.0 L740.0,248.0 L761.2,248.2 L772.5,256.2 L787.5,264.5 L802.5,273.8 L815.0,283.8 L820.5,291.2 L817.5,293.8 L812.5,285.0 L802.5,276.2 L790.0,267.5 L773.8,257.5 L770.5,267.5 L780.0,273.8 L780.0,283.8 L788.8,297.5 L788.8,315.0 L792.5,323.8 L801.2,328.8 L810.0,335.0 L820.0,340.0 L840.0,340.0 L855.0,338.8 L870.0,337.0 L885.0,333.8 L900.0,327.5 L915.0,318.8 L930.0,303.8 L942.5,286.2 L947.5,272.5 L951.2,255.0 L948.8,242.5 L951.2,230.0 L960.0,227.0 L980.0,225.5 M942.5,286.2 L943.8,290.0 L940.0,296.2 L930.0,306.2 L916.2,320.0 L902.5,328.8 L887.5,335.0 L872.0,340.0 L870.5,348.8 L878.8,352.5 L882.5,361.2 L890.0,348.8 L905.0,338.8 L917.5,333.8 L927.5,326.2 L935.0,320.0 L950.0,311.2 L952.5,303.8 L958.0,297.5 L963.8,300.0 L975.0,293.8 L980.0,290.0 M932.5,322.0 L945.0,322.5 L960.0,325.0 L975.0,327.5 L980.0,328.0 M942.5,285.0 L951.2,283.8 L957.5,284.5 L950.0,282.5 L951.2,275.0 L956.2,269.5 L962.5,272.5 L965.0,280.0 L971.2,281.2 L976.2,276.2 L980.0,275.0 M980.0,225.0 L990.0,223.8 L998.8,228.8 L1013.8,225.0 M980.0,276.2 L992.5,277.0 L1005.0,277.5 L997.5,280.5 L990.0,286.2 L980.0,290.5 M980.0,328.0 L1005.0,331.2 L1030.0,337.0 L1055.0,339.5 L1080.0,341.2 L1105.0,342.5 L1130.0,343.8 L1155.0,343.0 L1180.0,342.0 L1192.5,341.8 L1217.5,339.2 L1242.5,338.0 L1267.5,336.5 L1284.5,334.5 M1292.5,252.5 L1283.8,267.5 L1276.2,283.8 L1271.2,300.0 L1273.8,320.0 L1284.5,334.5 M1284.5,334.5 L1288.0,328.8 L1307.5,330.0 L1315.0,343.8 L1330.0,350.0 L1352.5,360.0 L1362.5,371.2 L1370.0,385.0 L1370.5,393.8 L1363.8,403.8 L1367.5,413.8 M1367.5,413.8 L1387.5,416.8 L1405.0,415.0 L1427.5,415.0 L1446.2,411.2 L1463.8,422.0 L1477.5,420.5 L1492.5,407.0 L1504.5,400.0 L1507.5,408.2 L1523.8,397.5 L1517.5,383.0 L1533.8,373.0 L1541.8,375.0 M1363.8,403.8 L1368.0,413.8 L1368.8,427.5 L1372.5,447.5 L1378.8,467.5 L1383.8,487.5 L1392.5,510.0 L1400.0,532.5 L1407.5,547.5 L1413.8,558.8 L1410.0,572.5 L1417.5,585.0 L1417.5,590.0 M286.2,590.0 L272.0,597.5 L272.0,616.2 L285.0,628.8 L300.0,641.2 L315.0,655.0 L328.8,668.8 L328.8,685.0 L320.0,696.2 L320.0,712.5 L323.0,725.0 L337.5,728.8 L338.0,757.5 L342.5,762.5 L341.2,780.0 L332.5,797.5 L324.5,808.8 L332.5,823.8 L342.5,836.2 L343.8,850.0 L339.5,855.5 L350.0,868.8 L368.8,876.2 L368.8,895.0 L375.5,913.8 L372.5,937.5 L371.2,950.0 L363.8,967.5 L356.2,980.0 L351.2,990.0 M281.2,990.0 L301.2,977.0 L287.0,965.0 L289.5,956.2 L308.8,958.0 L324.5,964.5 L325.0,977.0 L328.8,980.0 L330.0,990.0 M351.2,985.5 L371.2,985.5 L373.0,972.0 L370.0,966.2 L373.0,959.5 L400.0,961.2 L404.5,978.8 L413.8,990.0 M1417.5,590.0 L1417.5,641.2 L1403.8,653.8 L1386.2,663.0 L1368.8,670.0 L1353.8,681.2 L1343.8,696.2 L1336.2,711.2 L1328.8,724.5 M1328.8,724.5 L1341.2,737.0 L1357.5,743.0 L1372.5,752.5 L1385.5,761.2 L1387.5,778.8 L1380.0,797.5 L1382.5,816.2 L1371.2,825.0 L1371.2,842.5 L1375.0,861.2 L1382.5,866.2 L1385.0,877.5 L1388.8,889.5 L1383.0,902.0 L1392.5,915.0 L1401.2,928.8 L1410.0,947.5 L1418.8,965.0 L1426.2,978.8 L1440.0,990.0 M1541.8,792.5 L1507.5,797.5 L1487.5,797.0 L1470.0,800.5 L1462.0,822.5 L1447.5,833.0 L1433.8,847.5 L1426.2,853.0 L1411.2,842.5 L1392.5,840.0 L1382.5,845.0 L1385.0,853.8 L1382.5,866.2 M138.8,1065.0 L143.8,1057.0 L161.2,1053.2 L168.8,1041.2 L183.0,1029.5 L193.0,1035.0 L202.5,1018.8 L220.0,1013.2 L238.0,1013.0 L251.8,1000.0 L270.0,993.8 L281.2,990.0 M328.8,990.0 L348.8,993.8 L351.2,990.0 M413.8,990.0 L417.5,995.0 L432.5,1003.0 L450.0,1008.0 L467.5,1010.0 L485.0,1018.8 L501.2,1025.8 L518.8,1029.2 L536.2,1022.5 L538.8,1041.2 L528.8,1057.0 L514.2,1068.2 L522.5,1078.8 L532.0,1080.0 L542.5,1093.0 L553.8,1107.0 L555.0,1115.0 M138.8,1282.5 L155.0,1300.0 L167.0,1315.8 L182.5,1324.5 L187.0,1342.5 L204.5,1343.0 L217.5,1356.2 L231.2,1368.8 L235.0,1378.8 L235.5,1397.5 L231.2,1417.0 L222.5,1426.2 L199.5,1415.0 L191.2,1418.8 L188.8,1440.0 L185.5,1455.8 L171.2,1466.2 M235.0,1378.8 L260.0,1395.0 L261.8,1411.2 L280.0,1413.2 L296.2,1418.2 L308.8,1405.5 L325.0,1408.8 L338.0,1414.2 L340.0,1395.5 L351.2,1378.2 L368.8,1378.2 L371.2,1335.0 L390.0,1338.2 L390.5,1345.0 L407.5,1341.2 L426.2,1345.0 L441.2,1355.5 L456.2,1362.5 L470.0,1361.2 L485.0,1373.8 L498.8,1383.2 L517.5,1385.5 L536.2,1386.8 L543.8,1375.0 L555.0,1377.0 M555.0,1107.5 L556.2,1122.5 L572.5,1129.5 L586.2,1113.8 L607.5,1107.0 L608.0,1094.5 L592.5,1073.8 L592.0,1068.2 L608.8,1073.2 L628.0,1077.5 L640.5,1090.5 L647.0,1090.5 L647.5,1097.5 L665.0,1099.2 L683.8,1098.0 L687.5,1090.0 L692.5,1093.8 L695.0,1107.0 L677.0,1121.2 L692.0,1133.0 L701.2,1148.0 L713.0,1155.0 L730.0,1147.0 L746.2,1153.0 L762.5,1164.2 M762.5,1164.2 L790.0,1165.8 L791.2,1183.8 L799.5,1201.2 L817.5,1209.5 L823.0,1239.2 M823.0,1239.2 L805.0,1242.5 L787.5,1245.0 L766.2,1273.8 L750.0,1281.2 L741.2,1298.8 L735.0,1315.0 L726.2,1332.0 L714.5,1332.5 L708.8,1350.0 L696.2,1352.5 L680.0,1363.2 L663.8,1366.8 L645.0,1366.8 L628.8,1361.8 L616.2,1376.2 L608.8,1390.0 L599.5,1407.0 L599.5,1423.8 L590.0,1438.8 L588.8,1452.5 L595.0,1466.2 M555.0,1376.2 L562.5,1380.0 L575.0,1387.5 L595.0,1390.8 L599.5,1407.0 M823.0,1239.2 L833.8,1239.2 L838.8,1262.0 L861.2,1260.0 L868.2,1242.5 L885.0,1235.0 L893.2,1225.0 L907.5,1243.8 L920.5,1261.2 L933.2,1259.5 L933.8,1277.5 L928.8,1295.5 L941.2,1299.5 L948.8,1293.8 L958.8,1294.5 L967.5,1302.0 L972.5,1285.0 M972.5,1285.0 L980.0,1276.2 L983.8,1272.0 L994.2,1272.0 L995.0,1262.5 L1007.5,1261.2 L1024.5,1266.2 L1040.5,1258.0 L1055.0,1271.2 L1069.2,1279.5 L1082.5,1268.0 L1081.2,1258.8 L1087.5,1256.2 L1095.5,1260.0 L1106.2,1251.8 L1122.5,1258.0 L1140.5,1255.0 L1157.5,1260.0 L1175.0,1267.0 L1189.5,1277.5 L1196.2,1295.0 L1212.5,1303.8 L1227.5,1311.2 L1242.5,1318.8 L1255.0,1320.0 L1267.5,1326.2 L1280.0,1327.0 L1291.2,1335.5 L1292.5,1322.0 L1278.0,1304.5 L1277.5,1266.2 L1273.8,1248.8 L1267.0,1238.8 M1267.0,1238.8 L1285.0,1210.0 L1307.5,1176.2 L1327.5,1148.8 L1342.5,1132.5 L1355.0,1120.0 L1370.0,1107.5 L1380.0,1095.0 L1391.2,1080.0 L1405.0,1075.5 M1440.0,990.0 L1421.2,1001.2 L1431.2,1016.2 L1436.2,1035.0 L1435.0,1053.8 L1427.0,1069.5 L1410.0,1073.0 L1405.0,1075.0 M1255.0,1320.0 L1254.5,1333.8 L1242.0,1347.0 L1237.5,1365.0 L1233.8,1382.5 L1227.5,1397.5 L1213.8,1410.5 L1210.0,1427.5 L1208.0,1445.0 M998.8,1466.2 L1005.0,1445.0 L1015.0,1426.2 L1031.2,1418.8 L1048.0,1415.8 L1065.0,1421.2 L1081.2,1428.2 L1099.5,1430.5 L1116.2,1426.2 L1133.8,1428.8 L1150.0,1438.8 L1157.5,1455.5 L1175.0,1455.5 L1192.5,1451.2 L1208.0,1445.0 M1208.0,1445.0 L1222.5,1455.0 L1232.5,1477.5 L1251.2,1478.0 L1258.8,1493.8 L1260.0,1501.2 L1275.0,1503.0 L1287.5,1502.5 M1326.2,1502.5 L1328.8,1500.0 L1332.5,1502.5"/>
<circle cx="322.75" cy="511.75" r="6" fill="#f00"/>
<circle cx="506.75" cy="366.75" r="6" fill="#f00"/>
<circle cx="800.35" cy="340.0" r="6" fill="#f00"/>
<circle cx="726.25" cy="571.5" r="6" fill="#f00"/>
<circle cx="793.75" cy="588.9" r="6" fill="#f00"/>
<circle cx="1300" cy="382.5" r="6" fill="#f00"/>
<circle cx="1005.75" cy="447.5" r="6" fill="#f00"/>
<circle cx="1329.5" cy="565.9" r="6" fill="#f00"/>
<circle cx="403.9" cy="640.6" r="6" fill="#f00"/>
<circle cx="433.05" cy="792.85" r="6" fill="#f00"/>
<circle cx="597" cy="701.5" r="6" fill="#f00"/>
<circle cx="884.5" cy="830" r="6" fill="#f00"/>
<circle cx="611.75" cy="944.5" r="6" fill="#f00"/>
<circle cx="1075.5" cy="733.75" r="6" fill="#f00"/>
<circle cx="1235.5" cy="923.25" r="6" fill="#f00"/>
<circle cx="719.25" cy="1035" r="6" fill="#f00"/>
<circle cx="842" cy="1106.75" r="6" fill="#f00"/>
<circle cx="948.8" cy="1139.8" r="6" fill="#f00"/>
<circle cx="951.25" cy="1283.75" r="6" fill="#f00"/>
<circle cx="1037" cy="1001.25" r="6" fill="#f00"/>
<circle cx="1194.5" cy="1132" r="6" fill="#f00"/>
<line class="grid" x1="372.5" y1="198" x2="372.5" y2="1503"/>
<line class="grid" x1="723.5" y1="198" x2="723.5" y2="1503"/>
<line class="grid" x1="1074.5" y1="198" x2="1074.5" y2="1503"/>
<line class="grid" x1="1424.5" y1="198" x2="1424.5" y2="1503"/>
<line class="grid" x1="138" y1="404.5" x2="1542" y2="404.5"/>
<line class="grid" x1="138" y1="777.5" x2="1542" y2="777.5"/>
<line class="grid" x1="138" y1="1150.5" x2="1542" y2="1150.5"/>
</g>
<rect x="1013.65" y="199.2" width="527.85" height="53.2" fill="#fff" stroke="#333" stroke-width="0.8"/>
<text x="1024.7" y="233.8" font-size="31.4" fill="#000" textLength="507" lengthAdjust="spacingAndGlyphs">Wtorek, 16 grudnia 2025 02:20 UTC</text>
<rect x="138.7" y="1466.7" width="934.95" height="36.7" fill="#fff" stroke="#444" stroke-width="0.7"/>
<text x="149.2" y="1490.6" font-size="21.8" fill="#000" xml:space="preserve" textLength="917.3" lengthAdjust="spacingAndGlyphs">Model: MERGE   Grid dx/dy: 1.0 km   Input data: SCENE+AROME   Start: 02:20z, 16.12.2025</text>
<rect x="138.7" y="199.2" width="1402.8" height="1304.2" fill="none" stroke="#111" stroke-width="1.2"/>
<line x1="372.5" y1="1503.4" x2="372.5" y2="1527" stroke="#000" stroke-width="1"/>
<text class="ax" x="372.2" y="1552.2" text-anchor="middle">15E</text>
<line x1="723.5" y1="1503.4" x2="723.5" y2="1527" stroke="#000" stroke-width="1"/>
<text class="ax" x="723.2" y="1552.2" text-anchor="middle">18E</text>
<line x1="1074.5" y1="1503.4" x2="1074.5" y2="1527" stroke="#000" stroke-width="1"/>
<text class="ax" x="1074.2" y="1552.2" text-anchor="middle">21E</text>
<line x1="1424.5" y1="1503.4" x2="1424.5" y2="1527" stroke="#000" stroke-width="1"/>
<text class="ax" x="1424.2" y="1552.2" text-anchor="middle">24E</text>
<line x1="115.8" y1="404.5" x2="138.7" y2="404.5" stroke="#000" stroke-width="1"/>
<text class="ax" x="62.9" y="413.3" textLength="48.0" lengthAdjust="spacingAndGlyphs">54N</text>
<line x1="115.8" y1="777.5" x2="138.7" y2="777.5" stroke="#000" stroke-width="1"/>
<text class="ax" x="62.9" y="786.3" textLength="48.0" lengthAdjust="spacingAndGlyphs">52N</text>
<line x1="115.8" y1="1150.5" x2="138.7" y2="1150.5" stroke="#000" stroke-width="1"/>
<text class="ax" x="62.9" y="1159.3" textLength="48.0" lengthAdjust="spacingAndGlyphs">50N</text>
<rect x="1556.0" y="238.60" width="31.3" height="72.11" fill="#7f0000" stroke="#3a3a3a" stroke-width="0.5"/>
<rect x="1556.0" y="310.71" width="31.3" height="72.11" fill="#a50000" stroke="#3a3a3a" stroke-width="0.5"/>
<rect x="1556.0" y="382.81" width="31.3" height="72.11" fill="#d7002f" stroke="#3a3a3a" stroke-width="0.5"/>
<rect x="1556.0" y="454.92" width="31.3" height="72.11" fill="#ec5053" stroke="#3a3a3a" stroke-width="0.5"/>
<rect x="1556.0" y="527.02" width="31.3" height="72.11" fill="#f5754a" stroke="#3a3a3a" stroke-width="0.5"/>
<rect x="1556.0" y="599.13" width="31.3" height="72.11" fill="#fc9d40" stroke="#3a3a3a" stroke-width="0.5"/>
<rect x="1556.0" y="671.24" width="31.3" height="72.11" fill="#fdb858" stroke="#3a3a3a" stroke-width="0.5"/>
<rect x="1556.0" y="743.34" width="31.3" height="72.11" fill="#fae17c" stroke="#3a3a3a" stroke-width="0.5"/>
<rect x="1556.0" y="815.45" width="31.3" height="72.11" fill="#fffbb8" stroke="#3a3a3a" stroke-width="0.5"/>
<rect x="1556.0" y="887.55" width="31.3" height="72.11" fill="#cdf8c6" stroke="#3a3a3a" stroke-width="0.5"/>
<rect x="1556.0" y="959.66" width="31.3" height="72.11" fill="#abf3a3" stroke="#3a3a3a" stroke-width="0.5"/>
<rect x="1556.0" y="1031.76" width="31.3" height="72.11" fill="#6ce9dc" stroke="#3a3a3a" stroke-width="0.5"/>
<rect x="1556.0" y="1103.87" width="31.3" height="72.11" fill="#18adf9" stroke="#3a3a3a" stroke-width="0.5"/>
<rect x="1556.0" y="1175.98" width="31.3" height="72.11" fill="#1c60ee" stroke="#3a3a3a" stroke-width="0.5"/>
<rect x="1556.0" y="1248.08" width="31.3" height="72.11" fill="#6278e3" stroke="#3a3a3a" stroke-width="0.5"/>
<rect x="1556.0" y="1320.19" width="31.3" height="72.11" fill="#8eaaf0" stroke="#3a3a3a" stroke-width="0.5"/>
<rect x="1556.0" y="1392.29" width="31.3" height="72.11" fill="#ced8f8" stroke="#3a3a3a" stroke-width="0.5"/>
<text class="cbl" x="1625.3" y="248.7">70</text>
<text class="cbl" x="1625.3" y="320.8">60</text>
<text class="cbl" x="1625.3" y="392.9">55</text>
<text class="cbl" x="1625.3" y="465.0">50</text>
<text class="cbl" x="1625.3" y="537.1">45</text>
<text class="cbl" x="1625.3" y="609.2">40</text>
<text class="cbl" x="1625.3" y="681.3">35</text>
<text class="cbl" x="1625.3" y="753.4">30</text>
<text class="cbl" x="1625.3" y="825.5">25</text>
<text class="cbl" x="1625.3" y="897.7">20</text>
<text class="cbl" x="1625.3" y="969.8">15</text>
<text class="cbl" x="1625.3" y="1041.9">10</text>
<text class="cbl" x="1625.3" y="1114.0">5</text>
<text class="cbl" x="1625.3" y="1186.1">2</text>
<text class="cbl" x="1625.3" y="1258.2">1</text>
<text class="cbl" x="1625.3" y="1330.3">0.5</text>
<text class="cbl" x="1625.3" y="1402.4">0.1</text>
<text class="cbl" x="1625.3" y="1474.5">0.01</text>
</svg></body></html>
